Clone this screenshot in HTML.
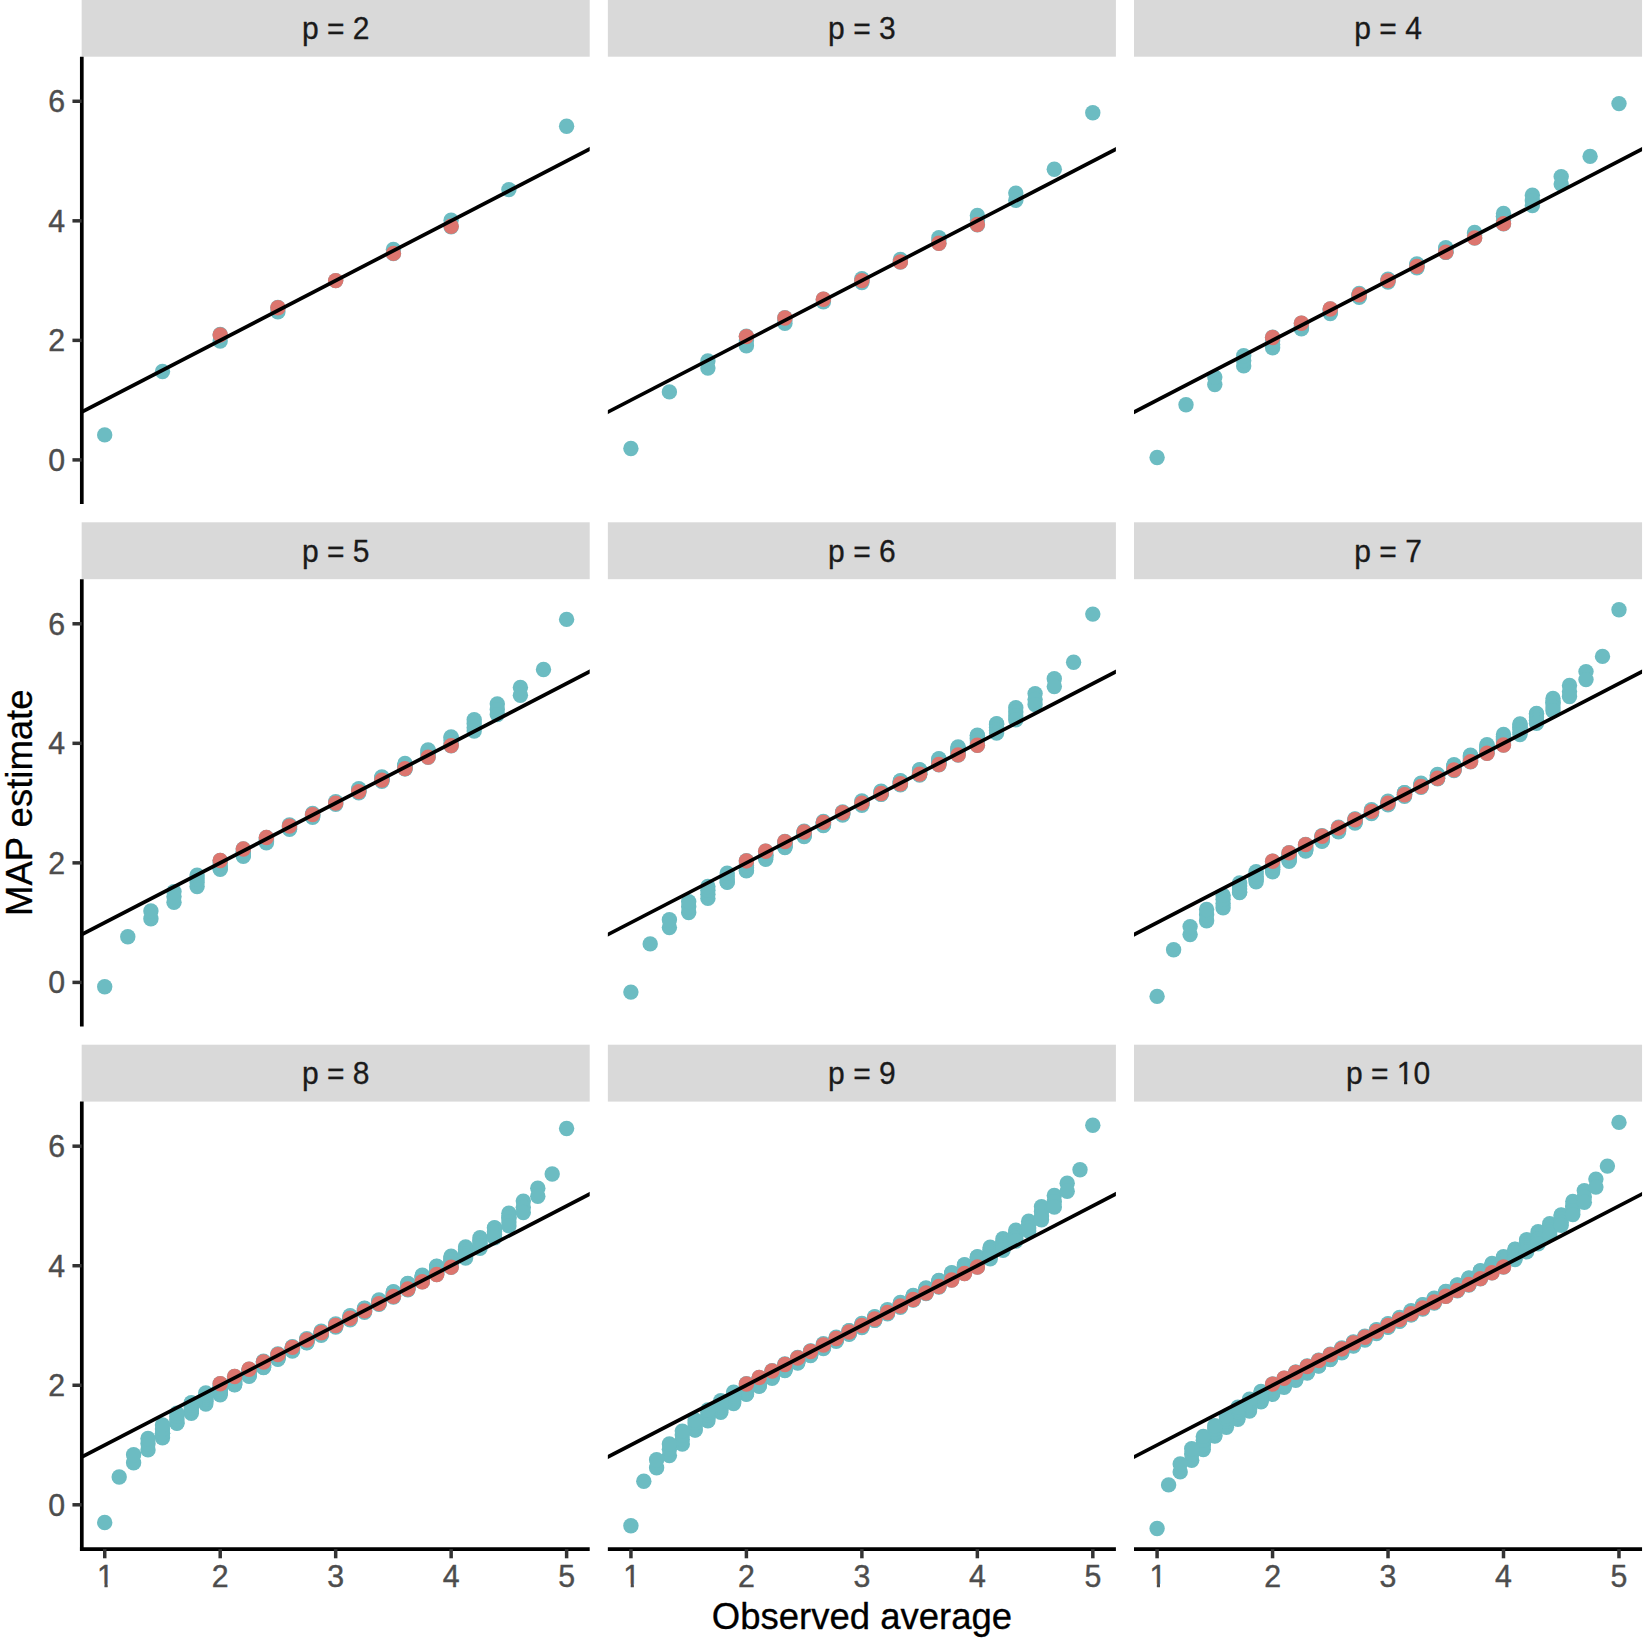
<!DOCTYPE html>
<html lang="en"><head><meta charset="utf-8"><title>MAP estimate vs observed average</title>
<style>html,body{margin:0;padding:0;background:#fff}svg{display:block}text{font-family:"Liberation Sans",Arial,Helvetica,sans-serif}.ax{font-size:30.3px;fill:#4D4D4D}.st{font-size:30px;fill:#1A1A1A;text-anchor:middle}.ti{font-size:36.5px;fill:#000;text-anchor:middle}.t{fill:#6CBCC2}.r{fill:#DC756E}.ax,.st,.ti{stroke-width:0.4px;stroke-linejoin:round}.ax{stroke:#4D4D4D}.st{stroke:#1A1A1A;stroke-width:0.3px}.ti{stroke:#000;stroke-width:0.3px}</style></head><body>
<svg width="1643" height="1641" viewBox="0 0 1643 1641">
<rect width="1643" height="1641" fill="#fff"/>
<defs><clipPath id="c1" clipPathUnits="objectBoundingBox"><path d="M-0.2 -0.2H1.2V0.712H0.625V1.2H0.438V0.712H-0.2Z"/></clipPath><clipPath id="c10" clipPathUnits="objectBoundingBox"><path d="M-0.1 -0.2H1.1V1.2H0.803V0.712H0.7275V1.2H0.691V0.712H0.612V1.2H-0.1Z"/></clipPath><clipPath id="p0"><rect x="81.65" y="56.7" width="508.05" height="447.3"/></clipPath><clipPath id="p1"><rect x="607.85" y="56.7" width="508.05" height="447.3"/></clipPath><clipPath id="p2"><rect x="1134" y="56.7" width="508.05" height="447.3"/></clipPath><clipPath id="p3"><rect x="81.65" y="579.2" width="508.05" height="447.3"/></clipPath><clipPath id="p4"><rect x="607.85" y="579.2" width="508.05" height="447.3"/></clipPath><clipPath id="p5"><rect x="1134" y="579.2" width="508.05" height="447.3"/></clipPath><clipPath id="p6"><rect x="81.65" y="1101.6" width="508.05" height="447.3"/></clipPath><clipPath id="p7"><rect x="607.85" y="1101.6" width="508.05" height="447.3"/></clipPath><clipPath id="p8"><rect x="1134" y="1101.6" width="508.05" height="447.3"/></clipPath></defs>
<g>
<rect x="81.65" y="-0.2" width="508.05" height="56.9" fill="#D9D9D9"/>
<text class="st" transform="translate(335.68 39.3) scale(1 1.02)">p = 2</text>
<g class="t"><circle cx="104.7" cy="434.9" r="7.7"/><circle cx="162.5" cy="371.5" r="7.7"/><circle cx="220.2" cy="341" r="7.7"/><circle cx="277.9" cy="311.8" r="7.7"/><circle cx="335.7" cy="280.6" r="7.7"/><circle cx="220.2" cy="334.5" r="7.7"/><circle cx="277.9" cy="307.5" r="7.7"/><circle cx="393.4" cy="249.4" r="7.7"/><circle cx="393.4" cy="253.6" r="7.7"/><circle cx="451.1" cy="220.2" r="7.7"/><circle cx="451.1" cy="226.7" r="7.7"/><circle cx="508.9" cy="189.6" r="7.7"/><circle cx="566.6" cy="126.3" r="7.7"/></g>
<g class="r"><circle cx="220.21" cy="334.93" r="7.7"/><circle cx="277.94" cy="307.76" r="7.7"/><circle cx="335.68" cy="280.59" r="7.7"/><circle cx="393.42" cy="253.42" r="7.7"/><circle cx="451.15" cy="226.25" r="7.7"/></g>
<line clip-path="url(#p0)" x1="58.55" y1="424.04" x2="612.81" y2="137.14" stroke="#000" stroke-width="3.7"/>
<line x1="81.8" y1="56.7" x2="81.8" y2="504" stroke="#000" stroke-width="3.7"/>
<line x1="72.45" y1="459.9" x2="81.65" y2="459.9" stroke="#333" stroke-width="3.5"/>
<text class="ax" text-anchor="end" transform="translate(65 470.7) scale(1 1.03)">0</text>
<line x1="72.45" y1="340.36" x2="81.65" y2="340.36" stroke="#333" stroke-width="3.5"/>
<text class="ax" text-anchor="end" transform="translate(65 351.16) scale(1 1.03)">2</text>
<line x1="72.45" y1="220.82" x2="81.65" y2="220.82" stroke="#333" stroke-width="3.5"/>
<text class="ax" text-anchor="end" transform="translate(65 231.62) scale(1 1.03)">4</text>
<line x1="72.45" y1="101.28" x2="81.65" y2="101.28" stroke="#333" stroke-width="3.5"/>
<text class="ax" text-anchor="end" transform="translate(65 112.08) scale(1 1.03)">6</text>
</g>
<g>
<rect x="607.85" y="-0.2" width="508.05" height="56.9" fill="#D9D9D9"/>
<text class="st" transform="translate(861.88 39.3) scale(1 1.02)">p = 3</text>
<g class="t"><circle cx="630.9" cy="448.5" r="7.7"/><circle cx="669.4" cy="391.9" r="7.7"/><circle cx="707.9" cy="368.1" r="7.7"/><circle cx="746.4" cy="345.8" r="7.7"/><circle cx="784.9" cy="323.4" r="7.7"/><circle cx="707.9" cy="360.9" r="7.7"/><circle cx="746.4" cy="340.8" r="7.7"/><circle cx="784.9" cy="321" r="7.7"/><circle cx="823.4" cy="300.1" r="7.7"/><circle cx="823.4" cy="301.7" r="7.7"/><circle cx="861.9" cy="280.6" r="7.7"/><circle cx="861.9" cy="282.6" r="7.7"/><circle cx="900.4" cy="261.1" r="7.7"/><circle cx="938.9" cy="237.8" r="7.7"/><circle cx="746.4" cy="336.3" r="7.7"/><circle cx="784.9" cy="317.7" r="7.7"/><circle cx="823.4" cy="299.1" r="7.7"/><circle cx="861.9" cy="278.6" r="7.7"/><circle cx="900.4" cy="259.5" r="7.7"/><circle cx="900.4" cy="262.1" r="7.7"/><circle cx="938.9" cy="240.1" r="7.7"/><circle cx="977.4" cy="215.4" r="7.7"/><circle cx="938.9" cy="243.4" r="7.7"/><circle cx="977.4" cy="220.4" r="7.7"/><circle cx="1015.8" cy="193.1" r="7.7"/><circle cx="977.4" cy="224.9" r="7.7"/><circle cx="1015.8" cy="200.3" r="7.7"/><circle cx="1054.3" cy="169.3" r="7.7"/><circle cx="1092.8" cy="112.7" r="7.7"/></g>
<g class="r"><circle cx="746.41" cy="336.62" r="7.7"/><circle cx="784.9" cy="317.95" r="7.7"/><circle cx="823.39" cy="299.27" r="7.7"/><circle cx="861.88" cy="280.59" r="7.7"/><circle cx="900.37" cy="261.91" r="7.7"/><circle cx="938.86" cy="243.23" r="7.7"/><circle cx="977.35" cy="224.56" r="7.7"/></g>
<line clip-path="url(#p1)" x1="584.75" y1="424.04" x2="1139.01" y2="137.14" stroke="#000" stroke-width="3.7"/>
</g>
<g>
<rect x="1134" y="-0.2" width="508.05" height="56.9" fill="#D9D9D9"/>
<text class="st" transform="translate(1388.03 39.3) scale(1 1.02)">p = 4</text>
<g class="t"><circle cx="1157.1" cy="457.5" r="7.7"/><circle cx="1186" cy="404.8" r="7.7"/><circle cx="1214.8" cy="384.6" r="7.7"/><circle cx="1243.7" cy="365.9" r="7.7"/><circle cx="1272.6" cy="347.7" r="7.7"/><circle cx="1214.8" cy="377.1" r="7.7"/><circle cx="1243.7" cy="360.5" r="7.7"/><circle cx="1272.6" cy="344.4" r="7.7"/><circle cx="1301.4" cy="327.8" r="7.7"/><circle cx="1301.4" cy="328.8" r="7.7"/><circle cx="1330.3" cy="312.4" r="7.7"/><circle cx="1330.3" cy="313.5" r="7.7"/><circle cx="1359.2" cy="297.2" r="7.7"/><circle cx="1388" cy="280.6" r="7.7"/><circle cx="1243.7" cy="355.7" r="7.7"/><circle cx="1272.6" cy="340.7" r="7.7"/><circle cx="1301.4" cy="325.8" r="7.7"/><circle cx="1330.3" cy="310" r="7.7"/><circle cx="1330.3" cy="311.1" r="7.7"/><circle cx="1359.2" cy="295.3" r="7.7"/><circle cx="1359.2" cy="296.6" r="7.7"/><circle cx="1416.9" cy="264" r="7.7"/><circle cx="1388" cy="282.1" r="7.7"/><circle cx="1416.9" cy="265.9" r="7.7"/><circle cx="1445.8" cy="248.8" r="7.7"/><circle cx="1416.9" cy="267.7" r="7.7"/><circle cx="1445.8" cy="251.2" r="7.7"/><circle cx="1474.6" cy="233.4" r="7.7"/><circle cx="1503.5" cy="213.5" r="7.7"/><circle cx="1272.6" cy="337.3" r="7.7"/><circle cx="1301.4" cy="323.1" r="7.7"/><circle cx="1330.3" cy="308.9" r="7.7"/><circle cx="1359.2" cy="293.5" r="7.7"/><circle cx="1359.2" cy="294.7" r="7.7"/><circle cx="1388" cy="279.1" r="7.7"/><circle cx="1416.9" cy="264.6" r="7.7"/><circle cx="1445.8" cy="247.7" r="7.7"/><circle cx="1359.2" cy="294.8" r="7.7"/><circle cx="1416.9" cy="266.4" r="7.7"/><circle cx="1445.8" cy="250" r="7.7"/><circle cx="1474.6" cy="232.4" r="7.7"/><circle cx="1445.8" cy="252.3" r="7.7"/><circle cx="1474.6" cy="235.4" r="7.7"/><circle cx="1503.5" cy="216.8" r="7.7"/><circle cx="1532.4" cy="195.3" r="7.7"/><circle cx="1445.8" cy="252.2" r="7.7"/><circle cx="1503.5" cy="216.7" r="7.7"/><circle cx="1474.6" cy="238.1" r="7.7"/><circle cx="1503.5" cy="220.5" r="7.7"/><circle cx="1532.4" cy="200.7" r="7.7"/><circle cx="1561.2" cy="176.6" r="7.7"/><circle cx="1503.5" cy="223.9" r="7.7"/><circle cx="1532.4" cy="205.5" r="7.7"/><circle cx="1561.2" cy="184.1" r="7.7"/><circle cx="1590.1" cy="156.4" r="7.7"/><circle cx="1619" cy="103.6" r="7.7"/></g>
<g class="r"><circle cx="1272.56" cy="337.51" r="7.7"/><circle cx="1301.43" cy="323.28" r="7.7"/><circle cx="1330.29" cy="309.05" r="7.7"/><circle cx="1359.16" cy="294.82" r="7.7"/><circle cx="1388.03" cy="280.59" r="7.7"/><circle cx="1416.9" cy="266.36" r="7.7"/><circle cx="1445.76" cy="252.13" r="7.7"/><circle cx="1474.63" cy="237.9" r="7.7"/><circle cx="1503.5" cy="223.67" r="7.7"/></g>
<line clip-path="url(#p2)" x1="1110.9" y1="424.04" x2="1665.16" y2="137.14" stroke="#000" stroke-width="3.7"/>
</g>
<g>
<rect x="81.65" y="522.3" width="508.05" height="56.9" fill="#D9D9D9"/>
<text class="st" transform="translate(335.68 561.8) scale(1 1.02)">p = 5</text>
<g class="t"><circle cx="104.7" cy="986.8" r="7.7"/><circle cx="127.8" cy="936.7" r="7.7"/><circle cx="150.9" cy="918.7" r="7.7"/><circle cx="174" cy="902.3" r="7.7"/><circle cx="197.1" cy="886.5" r="7.7"/><circle cx="150.9" cy="911" r="7.7"/><circle cx="174" cy="896.5" r="7.7"/><circle cx="197.1" cy="882.6" r="7.7"/><circle cx="220.2" cy="868.6" r="7.7"/><circle cx="220.2" cy="869.3" r="7.7"/><circle cx="243.3" cy="855.6" r="7.7"/><circle cx="243.3" cy="856.3" r="7.7"/><circle cx="266.4" cy="842.8" r="7.7"/><circle cx="289.5" cy="829.3" r="7.7"/><circle cx="174" cy="891.6" r="7.7"/><circle cx="197.1" cy="878.7" r="7.7"/><circle cx="220.2" cy="866" r="7.7"/><circle cx="243.3" cy="852.9" r="7.7"/><circle cx="243.3" cy="853.7" r="7.7"/><circle cx="266.4" cy="840.6" r="7.7"/><circle cx="266.4" cy="841.4" r="7.7"/><circle cx="289.5" cy="828.4" r="7.7"/><circle cx="312.6" cy="815.3" r="7.7"/><circle cx="312.6" cy="816.4" r="7.7"/><circle cx="335.7" cy="803.1" r="7.7"/><circle cx="312.6" cy="817.4" r="7.7"/><circle cx="335.7" cy="804.4" r="7.7"/><circle cx="358.8" cy="790.9" r="7.7"/><circle cx="381.9" cy="776.9" r="7.7"/><circle cx="197.1" cy="875.1" r="7.7"/><circle cx="220.2" cy="863.1" r="7.7"/><circle cx="243.3" cy="851.2" r="7.7"/><circle cx="266.4" cy="838.5" r="7.7"/><circle cx="266.4" cy="839.4" r="7.7"/><circle cx="289.5" cy="826.7" r="7.7"/><circle cx="289.5" cy="827.6" r="7.7"/><circle cx="312.6" cy="814.9" r="7.7"/><circle cx="335.7" cy="801.8" r="7.7"/><circle cx="312.6" cy="816" r="7.7"/><circle cx="358.8" cy="789.8" r="7.7"/><circle cx="358.8" cy="791.3" r="7.7"/><circle cx="381.9" cy="777.8" r="7.7"/><circle cx="405" cy="763.4" r="7.7"/><circle cx="381.9" cy="777.7" r="7.7"/><circle cx="358.8" cy="792.7" r="7.7"/><circle cx="381.9" cy="779.5" r="7.7"/><circle cx="405" cy="765.6" r="7.7"/><circle cx="428.1" cy="750.6" r="7.7"/><circle cx="381.9" cy="781.2" r="7.7"/><circle cx="405" cy="767.7" r="7.7"/><circle cx="428.1" cy="753.3" r="7.7"/><circle cx="451.1" cy="737.6" r="7.7"/><circle cx="474.2" cy="719.7" r="7.7"/><circle cx="220.2" cy="860.4" r="7.7"/><circle cx="243.3" cy="848.9" r="7.7"/><circle cx="266.4" cy="837.4" r="7.7"/><circle cx="289.5" cy="825" r="7.7"/><circle cx="289.5" cy="826" r="7.7"/><circle cx="312.6" cy="813.5" r="7.7"/><circle cx="312.6" cy="814.5" r="7.7"/><circle cx="358.8" cy="788.8" r="7.7"/><circle cx="381.9" cy="778.6" r="7.7"/><circle cx="405" cy="764.8" r="7.7"/><circle cx="428.1" cy="749.9" r="7.7"/><circle cx="405" cy="764.7" r="7.7"/><circle cx="381.9" cy="780.2" r="7.7"/><circle cx="405" cy="766.8" r="7.7"/><circle cx="428.1" cy="752.5" r="7.7"/><circle cx="451.1" cy="736.9" r="7.7"/><circle cx="405" cy="768.8" r="7.7"/><circle cx="428.1" cy="755" r="7.7"/><circle cx="451.1" cy="740.2" r="7.7"/><circle cx="474.2" cy="723.6" r="7.7"/><circle cx="497.3" cy="703.9" r="7.7"/><circle cx="405" cy="766.7" r="7.7"/><circle cx="405" cy="768.7" r="7.7"/><circle cx="428.1" cy="757.3" r="7.7"/><circle cx="451.1" cy="743.1" r="7.7"/><circle cx="474.2" cy="727.5" r="7.7"/><circle cx="497.3" cy="709.6" r="7.7"/><circle cx="520.4" cy="687.5" r="7.7"/><circle cx="451.1" cy="745.8" r="7.7"/><circle cx="474.2" cy="731.1" r="7.7"/><circle cx="497.3" cy="714.6" r="7.7"/><circle cx="520.4" cy="695.2" r="7.7"/><circle cx="543.5" cy="669.5" r="7.7"/><circle cx="566.6" cy="619.4" r="7.7"/></g>
<g class="r"><circle cx="220.21" cy="860.56" r="7.7"/><circle cx="243.3" cy="849.07" r="7.7"/><circle cx="266.4" cy="837.57" r="7.7"/><circle cx="289.49" cy="826.08" r="7.7"/><circle cx="312.59" cy="814.58" r="7.7"/><circle cx="335.68" cy="803.09" r="7.7"/><circle cx="358.77" cy="791.6" r="7.7"/><circle cx="381.87" cy="780.1" r="7.7"/><circle cx="404.96" cy="768.61" r="7.7"/><circle cx="428.06" cy="757.11" r="7.7"/><circle cx="451.15" cy="745.62" r="7.7"/></g>
<line clip-path="url(#p3)" x1="58.55" y1="946.54" x2="612.81" y2="659.64" stroke="#000" stroke-width="3.7"/>
<line x1="81.8" y1="579.2" x2="81.8" y2="1026.5" stroke="#000" stroke-width="3.7"/>
<line x1="72.45" y1="982.4" x2="81.65" y2="982.4" stroke="#333" stroke-width="3.5"/>
<text class="ax" text-anchor="end" transform="translate(65 993.2) scale(1 1.03)">0</text>
<line x1="72.45" y1="862.86" x2="81.65" y2="862.86" stroke="#333" stroke-width="3.5"/>
<text class="ax" text-anchor="end" transform="translate(65 873.66) scale(1 1.03)">2</text>
<line x1="72.45" y1="743.32" x2="81.65" y2="743.32" stroke="#333" stroke-width="3.5"/>
<text class="ax" text-anchor="end" transform="translate(65 754.12) scale(1 1.03)">4</text>
<line x1="72.45" y1="623.78" x2="81.65" y2="623.78" stroke="#333" stroke-width="3.5"/>
<text class="ax" text-anchor="end" transform="translate(65 634.58) scale(1 1.03)">6</text>
</g>
<g>
<rect x="607.85" y="522.3" width="508.05" height="56.9" fill="#D9D9D9"/>
<text class="st" transform="translate(861.88 561.8) scale(1 1.02)">p = 6</text>
<g class="t"><circle cx="630.9" cy="992.1" r="7.7"/><circle cx="650.2" cy="943.9" r="7.7"/><circle cx="669.4" cy="927.5" r="7.7"/><circle cx="688.7" cy="912.6" r="7.7"/><circle cx="707.9" cy="898.4" r="7.7"/><circle cx="669.4" cy="919.7" r="7.7"/><circle cx="688.7" cy="906.7" r="7.7"/><circle cx="707.9" cy="894.3" r="7.7"/><circle cx="727.2" cy="881.8" r="7.7"/><circle cx="727.2" cy="882.4" r="7.7"/><circle cx="746.4" cy="870.4" r="7.7"/><circle cx="746.4" cy="870.9" r="7.7"/><circle cx="765.7" cy="859.2" r="7.7"/><circle cx="784.9" cy="847.6" r="7.7"/><circle cx="688.7" cy="901.6" r="7.7"/><circle cx="707.9" cy="890.2" r="7.7"/><circle cx="727.2" cy="879" r="7.7"/><circle cx="746.4" cy="867.5" r="7.7"/><circle cx="746.4" cy="868.1" r="7.7"/><circle cx="765.7" cy="856.8" r="7.7"/><circle cx="765.7" cy="857.4" r="7.7"/><circle cx="784.9" cy="846.3" r="7.7"/><circle cx="804.1" cy="835.1" r="7.7"/><circle cx="784.9" cy="847" r="7.7"/><circle cx="804.1" cy="835.9" r="7.7"/><circle cx="823.4" cy="824.7" r="7.7"/><circle cx="804.1" cy="836.6" r="7.7"/><circle cx="823.4" cy="825.6" r="7.7"/><circle cx="842.6" cy="814.4" r="7.7"/><circle cx="861.9" cy="803.1" r="7.7"/><circle cx="707.9" cy="886.5" r="7.7"/><circle cx="727.2" cy="875.9" r="7.7"/><circle cx="746.4" cy="865.5" r="7.7"/><circle cx="765.7" cy="854.6" r="7.7"/><circle cx="765.7" cy="855.2" r="7.7"/><circle cx="784.9" cy="844.4" r="7.7"/><circle cx="784.9" cy="845" r="7.7"/><circle cx="804.1" cy="834.2" r="7.7"/><circle cx="823.4" cy="823.3" r="7.7"/><circle cx="765.7" cy="855.3" r="7.7"/><circle cx="804.1" cy="834.3" r="7.7"/><circle cx="823.4" cy="824.2" r="7.7"/><circle cx="842.6" cy="813.2" r="7.7"/><circle cx="823.4" cy="825" r="7.7"/><circle cx="842.6" cy="814.1" r="7.7"/><circle cx="881.1" cy="791.8" r="7.7"/><circle cx="842.6" cy="815" r="7.7"/><circle cx="861.9" cy="804.1" r="7.7"/><circle cx="881.1" cy="793" r="7.7"/><circle cx="900.4" cy="781.4" r="7.7"/><circle cx="861.9" cy="805.2" r="7.7"/><circle cx="881.1" cy="794.2" r="7.7"/><circle cx="900.4" cy="782.9" r="7.7"/><circle cx="919.6" cy="771.1" r="7.7"/><circle cx="938.9" cy="758.6" r="7.7"/><circle cx="727.2" cy="873.1" r="7.7"/><circle cx="746.4" cy="863.1" r="7.7"/><circle cx="765.7" cy="853.1" r="7.7"/><circle cx="784.9" cy="842.6" r="7.7"/><circle cx="784.9" cy="843.2" r="7.7"/><circle cx="804.1" cy="832.7" r="7.7"/><circle cx="804.1" cy="833.4" r="7.7"/><circle cx="823.4" cy="822.8" r="7.7"/><circle cx="842.6" cy="812" r="7.7"/><circle cx="784.9" cy="843.3" r="7.7"/><circle cx="861.9" cy="802" r="7.7"/><circle cx="900.4" cy="780.6" r="7.7"/><circle cx="900.4" cy="782" r="7.7"/><circle cx="919.6" cy="770.3" r="7.7"/><circle cx="881.1" cy="794.4" r="7.7"/><circle cx="900.4" cy="783.4" r="7.7"/><circle cx="919.6" cy="772" r="7.7"/><circle cx="938.9" cy="759.9" r="7.7"/><circle cx="958.1" cy="747" r="7.7"/><circle cx="900.4" cy="784.7" r="7.7"/><circle cx="919.6" cy="773.5" r="7.7"/><circle cx="938.9" cy="761.8" r="7.7"/><circle cx="958.1" cy="749.3" r="7.7"/><circle cx="977.4" cy="735.8" r="7.7"/><circle cx="919.6" cy="775" r="7.7"/><circle cx="938.9" cy="763.6" r="7.7"/><circle cx="958.1" cy="751.6" r="7.7"/><circle cx="977.4" cy="738.7" r="7.7"/><circle cx="996.6" cy="724.3" r="7.7"/><circle cx="1015.8" cy="707.7" r="7.7"/><circle cx="746.4" cy="860.8" r="7.7"/><circle cx="765.7" cy="851.1" r="7.7"/><circle cx="784.9" cy="841.5" r="7.7"/><circle cx="804.1" cy="831.1" r="7.7"/><circle cx="804.1" cy="831.9" r="7.7"/><circle cx="823.4" cy="821.5" r="7.7"/><circle cx="823.4" cy="822.3" r="7.7"/><circle cx="861.9" cy="801" r="7.7"/><circle cx="842.6" cy="812.7" r="7.7"/><circle cx="881.1" cy="791.1" r="7.7"/><circle cx="881.1" cy="792.3" r="7.7"/><circle cx="900.4" cy="781.2" r="7.7"/><circle cx="919.6" cy="769.6" r="7.7"/><circle cx="881.1" cy="793.5" r="7.7"/><circle cx="900.4" cy="782.6" r="7.7"/><circle cx="938.9" cy="759.2" r="7.7"/><circle cx="900.4" cy="783.9" r="7.7"/><circle cx="919.6" cy="772.8" r="7.7"/><circle cx="938.9" cy="761.2" r="7.7"/><circle cx="958.1" cy="748.8" r="7.7"/><circle cx="977.4" cy="735.2" r="7.7"/><circle cx="958.1" cy="748.7" r="7.7"/><circle cx="919.6" cy="774.3" r="7.7"/><circle cx="938.9" cy="762.9" r="7.7"/><circle cx="958.1" cy="751" r="7.7"/><circle cx="977.4" cy="738" r="7.7"/><circle cx="996.6" cy="723.7" r="7.7"/><circle cx="938.9" cy="764.7" r="7.7"/><circle cx="958.1" cy="753.1" r="7.7"/><circle cx="977.4" cy="740.7" r="7.7"/><circle cx="996.6" cy="727.2" r="7.7"/><circle cx="1015.8" cy="711.9" r="7.7"/><circle cx="1035.1" cy="693.6" r="7.7"/><circle cx="919.6" cy="772.7" r="7.7"/><circle cx="919.6" cy="774.2" r="7.7"/><circle cx="958.1" cy="755" r="7.7"/><circle cx="977.4" cy="743.1" r="7.7"/><circle cx="996.6" cy="730.2" r="7.7"/><circle cx="1015.8" cy="716" r="7.7"/><circle cx="1035.1" cy="699.5" r="7.7"/><circle cx="1054.3" cy="678.7" r="7.7"/><circle cx="977.4" cy="745.4" r="7.7"/><circle cx="996.6" cy="733.1" r="7.7"/><circle cx="1015.8" cy="719.7" r="7.7"/><circle cx="1035.1" cy="704.6" r="7.7"/><circle cx="1054.3" cy="686.5" r="7.7"/><circle cx="1073.6" cy="662.3" r="7.7"/><circle cx="1092.8" cy="614.1" r="7.7"/></g>
<g class="r"><circle cx="746.41" cy="860.93" r="7.7"/><circle cx="765.65" cy="851.29" r="7.7"/><circle cx="784.9" cy="841.65" r="7.7"/><circle cx="804.14" cy="832.01" r="7.7"/><circle cx="823.39" cy="822.37" r="7.7"/><circle cx="842.64" cy="812.73" r="7.7"/><circle cx="861.88" cy="803.09" r="7.7"/><circle cx="881.12" cy="793.45" r="7.7"/><circle cx="900.37" cy="783.81" r="7.7"/><circle cx="919.62" cy="774.17" r="7.7"/><circle cx="938.86" cy="764.53" r="7.7"/><circle cx="958.11" cy="754.89" r="7.7"/><circle cx="977.35" cy="745.25" r="7.7"/></g>
<line clip-path="url(#p4)" x1="584.75" y1="946.54" x2="1139.01" y2="659.64" stroke="#000" stroke-width="3.7"/>
</g>
<g>
<rect x="1134" y="522.3" width="508.05" height="56.9" fill="#D9D9D9"/>
<text class="st" transform="translate(1388.03 561.8) scale(1 1.02)">p = 7</text>
<g class="t"><circle cx="1157.1" cy="996.4" r="7.7"/><circle cx="1173.6" cy="949.7" r="7.7"/><circle cx="1190.1" cy="934.5" r="7.7"/><circle cx="1206.6" cy="920.8" r="7.7"/><circle cx="1223.1" cy="907.8" r="7.7"/><circle cx="1190.1" cy="926.6" r="7.7"/><circle cx="1206.6" cy="914.7" r="7.7"/><circle cx="1223.1" cy="903.4" r="7.7"/><circle cx="1239.6" cy="892.1" r="7.7"/><circle cx="1239.6" cy="892.6" r="7.7"/><circle cx="1256.1" cy="881.8" r="7.7"/><circle cx="1272.6" cy="871.7" r="7.7"/><circle cx="1289.1" cy="861.4" r="7.7"/><circle cx="1206.6" cy="909.5" r="7.7"/><circle cx="1223.1" cy="899.2" r="7.7"/><circle cx="1239.6" cy="889" r="7.7"/><circle cx="1256.1" cy="878.8" r="7.7"/><circle cx="1256.1" cy="879.3" r="7.7"/><circle cx="1272.6" cy="869.2" r="7.7"/><circle cx="1272.6" cy="869.7" r="7.7"/><circle cx="1289.1" cy="859.8" r="7.7"/><circle cx="1305.6" cy="849.9" r="7.7"/><circle cx="1289.1" cy="860.3" r="7.7"/><circle cx="1305.6" cy="850.5" r="7.7"/><circle cx="1322" cy="840.8" r="7.7"/><circle cx="1305.6" cy="851.1" r="7.7"/><circle cx="1322" cy="841.4" r="7.7"/><circle cx="1338.5" cy="831.7" r="7.7"/><circle cx="1355" cy="822" r="7.7"/><circle cx="1223.1" cy="895.4" r="7.7"/><circle cx="1239.6" cy="885.9" r="7.7"/><circle cx="1256.1" cy="876.5" r="7.7"/><circle cx="1272.6" cy="866.8" r="7.7"/><circle cx="1272.6" cy="867.3" r="7.7"/><circle cx="1289.1" cy="857.8" r="7.7"/><circle cx="1305.6" cy="848.7" r="7.7"/><circle cx="1322" cy="839.2" r="7.7"/><circle cx="1289.1" cy="858.3" r="7.7"/><circle cx="1305.6" cy="848.8" r="7.7"/><circle cx="1305.6" cy="849.3" r="7.7"/><circle cx="1322" cy="839.9" r="7.7"/><circle cx="1338.5" cy="830.4" r="7.7"/><circle cx="1322" cy="840.4" r="7.7"/><circle cx="1338.5" cy="831" r="7.7"/><circle cx="1355" cy="821.5" r="7.7"/><circle cx="1371.5" cy="811.9" r="7.7"/><circle cx="1355" cy="822.3" r="7.7"/><circle cx="1371.5" cy="812.8" r="7.7"/><circle cx="1388" cy="803.1" r="7.7"/><circle cx="1355" cy="823" r="7.7"/><circle cx="1371.5" cy="813.6" r="7.7"/><circle cx="1388" cy="804" r="7.7"/><circle cx="1404.5" cy="794.2" r="7.7"/><circle cx="1421" cy="784.2" r="7.7"/><circle cx="1239.6" cy="882.9" r="7.7"/><circle cx="1256.1" cy="874" r="7.7"/><circle cx="1272.6" cy="865.1" r="7.7"/><circle cx="1289.1" cy="855.8" r="7.7"/><circle cx="1289.1" cy="856.3" r="7.7"/><circle cx="1305.6" cy="847.1" r="7.7"/><circle cx="1305.6" cy="847.6" r="7.7"/><circle cx="1322" cy="838.4" r="7.7"/><circle cx="1338.5" cy="829" r="7.7"/><circle cx="1338.5" cy="829.7" r="7.7"/><circle cx="1355" cy="820.4" r="7.7"/><circle cx="1355" cy="821.1" r="7.7"/><circle cx="1371.5" cy="811.7" r="7.7"/><circle cx="1388" cy="802.2" r="7.7"/><circle cx="1338.5" cy="829.8" r="7.7"/><circle cx="1371.5" cy="812.5" r="7.7"/><circle cx="1404.5" cy="793.4" r="7.7"/><circle cx="1404.5" cy="794.5" r="7.7"/><circle cx="1421" cy="784.6" r="7.7"/><circle cx="1437.5" cy="774.5" r="7.7"/><circle cx="1388" cy="804.9" r="7.7"/><circle cx="1404.5" cy="795.5" r="7.7"/><circle cx="1421" cy="785.8" r="7.7"/><circle cx="1437.5" cy="775.8" r="7.7"/><circle cx="1454" cy="765.4" r="7.7"/><circle cx="1404.5" cy="796.4" r="7.7"/><circle cx="1421" cy="786.9" r="7.7"/><circle cx="1437.5" cy="777.1" r="7.7"/><circle cx="1454" cy="767" r="7.7"/><circle cx="1470.5" cy="756.2" r="7.7"/><circle cx="1487" cy="744.8" r="7.7"/><circle cx="1256.1" cy="871.6" r="7.7"/><circle cx="1272.6" cy="863" r="7.7"/><circle cx="1289.1" cy="854.5" r="7.7"/><circle cx="1305.6" cy="845.4" r="7.7"/><circle cx="1305.6" cy="846" r="7.7"/><circle cx="1322" cy="837" r="7.7"/><circle cx="1322" cy="837.5" r="7.7"/><circle cx="1338.5" cy="828.5" r="7.7"/><circle cx="1355" cy="819.3" r="7.7"/><circle cx="1355" cy="820" r="7.7"/><circle cx="1371.5" cy="810.7" r="7.7"/><circle cx="1404.5" cy="792.6" r="7.7"/><circle cx="1421" cy="785.1" r="7.7"/><circle cx="1437.5" cy="775.2" r="7.7"/><circle cx="1454" cy="764.8" r="7.7"/><circle cx="1437.5" cy="776.4" r="7.7"/><circle cx="1454" cy="766.3" r="7.7"/><circle cx="1470.5" cy="755.6" r="7.7"/><circle cx="1421" cy="787.3" r="7.7"/><circle cx="1437.5" cy="777.7" r="7.7"/><circle cx="1454" cy="767.8" r="7.7"/><circle cx="1470.5" cy="757.4" r="7.7"/><circle cx="1487" cy="746.4" r="7.7"/><circle cx="1503.5" cy="734.5" r="7.7"/><circle cx="1437.5" cy="778.9" r="7.7"/><circle cx="1454" cy="769.2" r="7.7"/><circle cx="1470.5" cy="759.1" r="7.7"/><circle cx="1487" cy="748.4" r="7.7"/><circle cx="1503.5" cy="737" r="7.7"/><circle cx="1520" cy="724.4" r="7.7"/><circle cx="1454" cy="770.6" r="7.7"/><circle cx="1470.5" cy="760.7" r="7.7"/><circle cx="1487" cy="750.4" r="7.7"/><circle cx="1503.5" cy="739.4" r="7.7"/><circle cx="1520" cy="727.4" r="7.7"/><circle cx="1536.5" cy="714" r="7.7"/><circle cx="1553" cy="698.4" r="7.7"/><circle cx="1272.6" cy="861.1" r="7.7"/><circle cx="1289.1" cy="852.8" r="7.7"/><circle cx="1305.6" cy="844.4" r="7.7"/><circle cx="1322" cy="835.6" r="7.7"/><circle cx="1322" cy="836.2" r="7.7"/><circle cx="1338.5" cy="827.2" r="7.7"/><circle cx="1338.5" cy="827.9" r="7.7"/><circle cx="1355" cy="818.9" r="7.7"/><circle cx="1371.5" cy="809.7" r="7.7"/><circle cx="1388" cy="801.3" r="7.7"/><circle cx="1404.5" cy="792.8" r="7.7"/><circle cx="1421" cy="783.2" r="7.7"/><circle cx="1404.5" cy="794.8" r="7.7"/><circle cx="1421" cy="785.5" r="7.7"/><circle cx="1470.5" cy="755.1" r="7.7"/><circle cx="1421" cy="786.6" r="7.7"/><circle cx="1470.5" cy="756.9" r="7.7"/><circle cx="1487" cy="745.9" r="7.7"/><circle cx="1437.5" cy="778.3" r="7.7"/><circle cx="1454" cy="768.6" r="7.7"/><circle cx="1470.5" cy="758.6" r="7.7"/><circle cx="1487" cy="747.9" r="7.7"/><circle cx="1503.5" cy="736.5" r="7.7"/><circle cx="1520" cy="724" r="7.7"/><circle cx="1437.5" cy="775.7" r="7.7"/><circle cx="1454" cy="770" r="7.7"/><circle cx="1470.5" cy="760.2" r="7.7"/><circle cx="1487" cy="749.8" r="7.7"/><circle cx="1503.5" cy="738.8" r="7.7"/><circle cx="1520" cy="726.9" r="7.7"/><circle cx="1536.5" cy="713.5" r="7.7"/><circle cx="1470.5" cy="761.7" r="7.7"/><circle cx="1487" cy="751.7" r="7.7"/><circle cx="1503.5" cy="741.1" r="7.7"/><circle cx="1520" cy="729.7" r="7.7"/><circle cx="1536.5" cy="717.1" r="7.7"/><circle cx="1553" cy="702.8" r="7.7"/><circle cx="1569.5" cy="685.4" r="7.7"/><circle cx="1437.5" cy="778.2" r="7.7"/><circle cx="1553" cy="702.7" r="7.7"/><circle cx="1487" cy="753.4" r="7.7"/><circle cx="1503.5" cy="743.1" r="7.7"/><circle cx="1520" cy="732.2" r="7.7"/><circle cx="1536.5" cy="720.3" r="7.7"/><circle cx="1553" cy="707" r="7.7"/><circle cx="1569.5" cy="691.5" r="7.7"/><circle cx="1586" cy="671.6" r="7.7"/><circle cx="1503.5" cy="745.1" r="7.7"/><circle cx="1520" cy="734.6" r="7.7"/><circle cx="1536.5" cy="723.3" r="7.7"/><circle cx="1553" cy="710.8" r="7.7"/><circle cx="1569.5" cy="696.6" r="7.7"/><circle cx="1586" cy="679.6" r="7.7"/><circle cx="1602.5" cy="656.4" r="7.7"/><circle cx="1619" cy="609.7" r="7.7"/></g>
<g class="r"><circle cx="1272.56" cy="861.2" r="7.7"/><circle cx="1289.06" cy="852.9" r="7.7"/><circle cx="1305.55" cy="844.6" r="7.7"/><circle cx="1322.05" cy="836.3" r="7.7"/><circle cx="1338.54" cy="827.99" r="7.7"/><circle cx="1355.04" cy="819.69" r="7.7"/><circle cx="1371.53" cy="811.39" r="7.7"/><circle cx="1388.03" cy="803.09" r="7.7"/><circle cx="1404.53" cy="794.79" r="7.7"/><circle cx="1421.02" cy="786.49" r="7.7"/><circle cx="1437.52" cy="778.19" r="7.7"/><circle cx="1454.01" cy="769.88" r="7.7"/><circle cx="1470.51" cy="761.58" r="7.7"/><circle cx="1487" cy="753.28" r="7.7"/><circle cx="1503.5" cy="744.98" r="7.7"/></g>
<line clip-path="url(#p5)" x1="1110.9" y1="946.54" x2="1665.16" y2="659.64" stroke="#000" stroke-width="3.7"/>
</g>
<g>
<rect x="81.65" y="1044.7" width="508.05" height="56.9" fill="#D9D9D9"/>
<text class="st" transform="translate(335.68 1084.2) scale(1 1.02)">p = 8</text>
<g class="t"><circle cx="104.7" cy="1522.5" r="7.7"/><circle cx="119.2" cy="1477" r="7.7"/><circle cx="133.6" cy="1462.7" r="7.7"/><circle cx="148" cy="1449.9" r="7.7"/><circle cx="162.5" cy="1437.8" r="7.7"/><circle cx="133.6" cy="1454.8" r="7.7"/><circle cx="148" cy="1443.7" r="7.7"/><circle cx="162.5" cy="1433.2" r="7.7"/><circle cx="176.9" cy="1422.8" r="7.7"/><circle cx="162.5" cy="1433.3" r="7.7"/><circle cx="176.9" cy="1423.3" r="7.7"/><circle cx="191.3" cy="1413.3" r="7.7"/><circle cx="205.8" cy="1404.1" r="7.7"/><circle cx="220.2" cy="1394.7" r="7.7"/><circle cx="148" cy="1438.5" r="7.7"/><circle cx="162.5" cy="1428.9" r="7.7"/><circle cx="176.9" cy="1419.6" r="7.7"/><circle cx="191.3" cy="1410.2" r="7.7"/><circle cx="191.3" cy="1410.6" r="7.7"/><circle cx="205.8" cy="1401.5" r="7.7"/><circle cx="205.8" cy="1401.8" r="7.7"/><circle cx="220.2" cy="1392.9" r="7.7"/><circle cx="234.6" cy="1384" r="7.7"/><circle cx="220.2" cy="1393.3" r="7.7"/><circle cx="234.6" cy="1384.5" r="7.7"/><circle cx="249.1" cy="1375.7" r="7.7"/><circle cx="234.6" cy="1384.9" r="7.7"/><circle cx="249.1" cy="1376.2" r="7.7"/><circle cx="263.5" cy="1367.6" r="7.7"/><circle cx="277.9" cy="1358.9" r="7.7"/><circle cx="162.5" cy="1425" r="7.7"/><circle cx="176.9" cy="1416.3" r="7.7"/><circle cx="191.3" cy="1407.8" r="7.7"/><circle cx="205.8" cy="1399" r="7.7"/><circle cx="205.8" cy="1399.4" r="7.7"/><circle cx="220.2" cy="1390.7" r="7.7"/><circle cx="220.2" cy="1391.1" r="7.7"/><circle cx="234.6" cy="1382.6" r="7.7"/><circle cx="249.1" cy="1374.1" r="7.7"/><circle cx="234.6" cy="1383.1" r="7.7"/><circle cx="249.1" cy="1374.6" r="7.7"/><circle cx="263.5" cy="1366.1" r="7.7"/><circle cx="249.1" cy="1375" r="7.7"/><circle cx="263.5" cy="1366.6" r="7.7"/><circle cx="277.9" cy="1358.2" r="7.7"/><circle cx="292.4" cy="1349.7" r="7.7"/><circle cx="220.2" cy="1391.3" r="7.7"/><circle cx="263.5" cy="1367.2" r="7.7"/><circle cx="292.4" cy="1350.4" r="7.7"/><circle cx="306.8" cy="1341.9" r="7.7"/><circle cx="277.9" cy="1359.3" r="7.7"/><circle cx="292.4" cy="1351" r="7.7"/><circle cx="306.8" cy="1342.6" r="7.7"/><circle cx="321.2" cy="1334.1" r="7.7"/><circle cx="335.7" cy="1325.5" r="7.7"/><circle cx="176.9" cy="1413.3" r="7.7"/><circle cx="191.3" cy="1405.2" r="7.7"/><circle cx="205.8" cy="1397.1" r="7.7"/><circle cx="220.2" cy="1388.7" r="7.7"/><circle cx="220.2" cy="1389.1" r="7.7"/><circle cx="234.6" cy="1380.8" r="7.7"/><circle cx="249.1" cy="1373" r="7.7"/><circle cx="263.5" cy="1364.7" r="7.7"/><circle cx="234.6" cy="1381.3" r="7.7"/><circle cx="249.1" cy="1373.5" r="7.7"/><circle cx="263.5" cy="1365.2" r="7.7"/><circle cx="277.9" cy="1357" r="7.7"/><circle cx="263.5" cy="1365.7" r="7.7"/><circle cx="277.9" cy="1357.5" r="7.7"/><circle cx="292.4" cy="1349.2" r="7.7"/><circle cx="306.8" cy="1340.9" r="7.7"/><circle cx="292.4" cy="1349.9" r="7.7"/><circle cx="306.8" cy="1341.6" r="7.7"/><circle cx="321.2" cy="1333.2" r="7.7"/><circle cx="350.1" cy="1316.9" r="7.7"/><circle cx="306.8" cy="1342.9" r="7.7"/><circle cx="321.2" cy="1334.6" r="7.7"/><circle cx="335.7" cy="1326.3" r="7.7"/><circle cx="350.1" cy="1317.8" r="7.7"/><circle cx="364.5" cy="1309.1" r="7.7"/><circle cx="321.2" cy="1335.4" r="7.7"/><circle cx="335.7" cy="1327.1" r="7.7"/><circle cx="350.1" cy="1318.7" r="7.7"/><circle cx="364.5" cy="1310.1" r="7.7"/><circle cx="379" cy="1301.2" r="7.7"/><circle cx="393.4" cy="1292.1" r="7.7"/><circle cx="191.3" cy="1402.7" r="7.7"/><circle cx="205.8" cy="1395" r="7.7"/><circle cx="220.2" cy="1387.2" r="7.7"/><circle cx="234.6" cy="1379.1" r="7.7"/><circle cx="220.2" cy="1387.3" r="7.7"/><circle cx="234.6" cy="1379.6" r="7.7"/><circle cx="249.1" cy="1371.5" r="7.7"/><circle cx="249.1" cy="1371.9" r="7.7"/><circle cx="263.5" cy="1363.9" r="7.7"/><circle cx="277.9" cy="1355.7" r="7.7"/><circle cx="277.9" cy="1356.3" r="7.7"/><circle cx="292.4" cy="1348.2" r="7.7"/><circle cx="306.8" cy="1340.6" r="7.7"/><circle cx="321.2" cy="1332.3" r="7.7"/><circle cx="335.7" cy="1324.7" r="7.7"/><circle cx="364.5" cy="1308.4" r="7.7"/><circle cx="364.5" cy="1309.4" r="7.7"/><circle cx="379" cy="1300.6" r="7.7"/><circle cx="350.1" cy="1318.8" r="7.7"/><circle cx="364.5" cy="1310.4" r="7.7"/><circle cx="379" cy="1301.7" r="7.7"/><circle cx="393.4" cy="1292.8" r="7.7"/><circle cx="407.8" cy="1283.4" r="7.7"/><circle cx="350.1" cy="1319.7" r="7.7"/><circle cx="364.5" cy="1311.3" r="7.7"/><circle cx="379" cy="1302.8" r="7.7"/><circle cx="393.4" cy="1294" r="7.7"/><circle cx="407.8" cy="1284.9" r="7.7"/><circle cx="422.3" cy="1275.2" r="7.7"/><circle cx="364.5" cy="1312.3" r="7.7"/><circle cx="379" cy="1303.9" r="7.7"/><circle cx="393.4" cy="1295.2" r="7.7"/><circle cx="407.8" cy="1286.3" r="7.7"/><circle cx="422.3" cy="1276.9" r="7.7"/><circle cx="436.7" cy="1267" r="7.7"/><circle cx="451.1" cy="1256.3" r="7.7"/><circle cx="205.8" cy="1392.9" r="7.7"/><circle cx="220.2" cy="1385.4" r="7.7"/><circle cx="234.6" cy="1377.9" r="7.7"/><circle cx="249.1" cy="1370" r="7.7"/><circle cx="249.1" cy="1370.5" r="7.7"/><circle cx="263.5" cy="1362.6" r="7.7"/><circle cx="263.5" cy="1363.1" r="7.7"/><circle cx="277.9" cy="1355.1" r="7.7"/><circle cx="292.4" cy="1347.1" r="7.7"/><circle cx="292.4" cy="1347.7" r="7.7"/><circle cx="306.8" cy="1339.6" r="7.7"/><circle cx="292.4" cy="1348.3" r="7.7"/><circle cx="321.2" cy="1332.2" r="7.7"/><circle cx="335.7" cy="1323.9" r="7.7"/><circle cx="350.1" cy="1316.3" r="7.7"/><circle cx="321.2" cy="1333.6" r="7.7"/><circle cx="379" cy="1300" r="7.7"/><circle cx="379" cy="1302.2" r="7.7"/><circle cx="393.4" cy="1293.5" r="7.7"/><circle cx="407.8" cy="1284.4" r="7.7"/><circle cx="379" cy="1303.3" r="7.7"/><circle cx="393.4" cy="1294.7" r="7.7"/><circle cx="407.8" cy="1285.8" r="7.7"/><circle cx="422.3" cy="1276.4" r="7.7"/><circle cx="436.7" cy="1266.5" r="7.7"/><circle cx="379" cy="1304.3" r="7.7"/><circle cx="393.4" cy="1295.9" r="7.7"/><circle cx="407.8" cy="1287.1" r="7.7"/><circle cx="422.3" cy="1278" r="7.7"/><circle cx="436.7" cy="1268.4" r="7.7"/><circle cx="451.1" cy="1258.1" r="7.7"/><circle cx="465.6" cy="1246.9" r="7.7"/><circle cx="407.8" cy="1285.7" r="7.7"/><circle cx="393.4" cy="1297" r="7.7"/><circle cx="407.8" cy="1288.4" r="7.7"/><circle cx="422.3" cy="1279.5" r="7.7"/><circle cx="436.7" cy="1270.2" r="7.7"/><circle cx="451.1" cy="1260.2" r="7.7"/><circle cx="465.6" cy="1249.5" r="7.7"/><circle cx="480" cy="1237.6" r="7.7"/><circle cx="407.8" cy="1289.7" r="7.7"/><circle cx="422.3" cy="1281" r="7.7"/><circle cx="436.7" cy="1271.9" r="7.7"/><circle cx="451.1" cy="1262.3" r="7.7"/><circle cx="465.6" cy="1252" r="7.7"/><circle cx="480" cy="1240.8" r="7.7"/><circle cx="494.5" cy="1228.1" r="7.7"/><circle cx="508.9" cy="1213.2" r="7.7"/><circle cx="220.2" cy="1383.7" r="7.7"/><circle cx="234.6" cy="1376.4" r="7.7"/><circle cx="249.1" cy="1369.1" r="7.7"/><circle cx="263.5" cy="1361.3" r="7.7"/><circle cx="263.5" cy="1361.8" r="7.7"/><circle cx="277.9" cy="1354" r="7.7"/><circle cx="277.9" cy="1354.5" r="7.7"/><circle cx="292.4" cy="1346.7" r="7.7"/><circle cx="306.8" cy="1338.7" r="7.7"/><circle cx="321.2" cy="1331.3" r="7.7"/><circle cx="306.8" cy="1340" r="7.7"/><circle cx="350.1" cy="1315.6" r="7.7"/><circle cx="364.5" cy="1308.1" r="7.7"/><circle cx="350.1" cy="1317.4" r="7.7"/><circle cx="393.4" cy="1291.7" r="7.7"/><circle cx="407.8" cy="1283.8" r="7.7"/><circle cx="364.5" cy="1311" r="7.7"/><circle cx="379" cy="1302.7" r="7.7"/><circle cx="422.3" cy="1275.9" r="7.7"/><circle cx="436.7" cy="1266.1" r="7.7"/><circle cx="393.4" cy="1295.3" r="7.7"/><circle cx="422.3" cy="1277.5" r="7.7"/><circle cx="436.7" cy="1267.9" r="7.7"/><circle cx="451.1" cy="1257.7" r="7.7"/><circle cx="393.4" cy="1296.5" r="7.7"/><circle cx="407.8" cy="1287.9" r="7.7"/><circle cx="422.3" cy="1279" r="7.7"/><circle cx="436.7" cy="1269.7" r="7.7"/><circle cx="465.6" cy="1249.1" r="7.7"/><circle cx="407.8" cy="1289.2" r="7.7"/><circle cx="422.3" cy="1280.5" r="7.7"/><circle cx="436.7" cy="1271.4" r="7.7"/><circle cx="451.1" cy="1261.8" r="7.7"/><circle cx="465.6" cy="1251.6" r="7.7"/><circle cx="480" cy="1240.4" r="7.7"/><circle cx="494.5" cy="1227.7" r="7.7"/><circle cx="422.3" cy="1281.9" r="7.7"/><circle cx="436.7" cy="1273.1" r="7.7"/><circle cx="451.1" cy="1263.8" r="7.7"/><circle cx="465.6" cy="1253.9" r="7.7"/><circle cx="480" cy="1243.2" r="7.7"/><circle cx="494.5" cy="1231.4" r="7.7"/><circle cx="508.9" cy="1217.8" r="7.7"/><circle cx="523.3" cy="1201.1" r="7.7"/><circle cx="451.1" cy="1259.7" r="7.7"/><circle cx="451.1" cy="1263.7" r="7.7"/><circle cx="508.9" cy="1217.7" r="7.7"/><circle cx="436.7" cy="1274.6" r="7.7"/><circle cx="451.1" cy="1265.6" r="7.7"/><circle cx="465.6" cy="1256" r="7.7"/><circle cx="480" cy="1245.8" r="7.7"/><circle cx="494.5" cy="1234.6" r="7.7"/><circle cx="508.9" cy="1222.1" r="7.7"/><circle cx="523.3" cy="1207.3" r="7.7"/><circle cx="537.8" cy="1188.2" r="7.7"/><circle cx="451.1" cy="1267.3" r="7.7"/><circle cx="465.6" cy="1258.1" r="7.7"/><circle cx="480" cy="1248.3" r="7.7"/><circle cx="494.5" cy="1237.7" r="7.7"/><circle cx="508.9" cy="1225.9" r="7.7"/><circle cx="523.3" cy="1212.5" r="7.7"/><circle cx="537.8" cy="1196.2" r="7.7"/><circle cx="552.2" cy="1174" r="7.7"/><circle cx="566.6" cy="1128.5" r="7.7"/></g>
<g class="r"><circle cx="220.21" cy="1383.8" r="7.7"/><circle cx="234.64" cy="1376.51" r="7.7"/><circle cx="249.08" cy="1369.22" r="7.7"/><circle cx="263.51" cy="1361.94" r="7.7"/><circle cx="277.94" cy="1354.65" r="7.7"/><circle cx="292.38" cy="1347.36" r="7.7"/><circle cx="306.81" cy="1340.07" r="7.7"/><circle cx="321.25" cy="1332.78" r="7.7"/><circle cx="335.68" cy="1325.49" r="7.7"/><circle cx="350.11" cy="1318.2" r="7.7"/><circle cx="364.55" cy="1310.91" r="7.7"/><circle cx="378.98" cy="1303.62" r="7.7"/><circle cx="393.42" cy="1296.33" r="7.7"/><circle cx="407.85" cy="1289.04" r="7.7"/><circle cx="422.28" cy="1281.76" r="7.7"/><circle cx="436.72" cy="1274.47" r="7.7"/><circle cx="451.15" cy="1267.18" r="7.7"/></g>
<line clip-path="url(#p6)" x1="58.55" y1="1468.94" x2="612.81" y2="1182.04" stroke="#000" stroke-width="3.7"/>
<line x1="81.8" y1="1101.6" x2="81.8" y2="1550.75" stroke="#000" stroke-width="3.7"/>
<line x1="72.45" y1="1504.8" x2="81.65" y2="1504.8" stroke="#333" stroke-width="3.5"/>
<text class="ax" text-anchor="end" transform="translate(65 1515.6) scale(1 1.03)">0</text>
<line x1="72.45" y1="1385.26" x2="81.65" y2="1385.26" stroke="#333" stroke-width="3.5"/>
<text class="ax" text-anchor="end" transform="translate(65 1396.06) scale(1 1.03)">2</text>
<line x1="72.45" y1="1265.72" x2="81.65" y2="1265.72" stroke="#333" stroke-width="3.5"/>
<text class="ax" text-anchor="end" transform="translate(65 1276.52) scale(1 1.03)">4</text>
<line x1="72.45" y1="1146.18" x2="81.65" y2="1146.18" stroke="#333" stroke-width="3.5"/>
<text class="ax" text-anchor="end" transform="translate(65 1156.98) scale(1 1.03)">6</text>
<line x1="79.95" y1="1549.1" x2="589.7" y2="1549.1" stroke="#000" stroke-width="3.7"/>
<line x1="104.74" y1="1549.1" x2="104.74" y2="1558.3" stroke="#333" stroke-width="3.5"/>
<text class="ax" text-anchor="middle" transform="translate(105.54 1587) scale(1 1.03)" clip-path="url(#c1)">1</text>
<line x1="220.21" y1="1549.1" x2="220.21" y2="1558.3" stroke="#333" stroke-width="3.5"/>
<text class="ax" text-anchor="middle" transform="translate(220.21 1587) scale(1 1.03)">2</text>
<line x1="335.68" y1="1549.1" x2="335.68" y2="1558.3" stroke="#333" stroke-width="3.5"/>
<text class="ax" text-anchor="middle" transform="translate(335.68 1587) scale(1 1.03)">3</text>
<line x1="451.15" y1="1549.1" x2="451.15" y2="1558.3" stroke="#333" stroke-width="3.5"/>
<text class="ax" text-anchor="middle" transform="translate(451.15 1587) scale(1 1.03)">4</text>
<line x1="566.62" y1="1549.1" x2="566.62" y2="1558.3" stroke="#333" stroke-width="3.5"/>
<text class="ax" text-anchor="middle" transform="translate(566.62 1587) scale(1 1.03)">5</text>
</g>
<g>
<rect x="607.85" y="1044.7" width="508.05" height="56.9" fill="#D9D9D9"/>
<text class="st" transform="translate(861.88 1084.2) scale(1 1.02)">p = 9</text>
<g class="t"><circle cx="630.9" cy="1525.7" r="7.7"/><circle cx="643.8" cy="1481.2" r="7.7"/><circle cx="656.6" cy="1467.7" r="7.7"/><circle cx="669.4" cy="1455.5" r="7.7"/><circle cx="682.3" cy="1444.1" r="7.7"/><circle cx="656.6" cy="1459.7" r="7.7"/><circle cx="669.4" cy="1449.3" r="7.7"/><circle cx="682.3" cy="1439.4" r="7.7"/><circle cx="695.1" cy="1429.7" r="7.7"/><circle cx="695.1" cy="1430.1" r="7.7"/><circle cx="707.9" cy="1420.9" r="7.7"/><circle cx="720.8" cy="1412.3" r="7.7"/><circle cx="733.6" cy="1403.6" r="7.7"/><circle cx="669.4" cy="1444" r="7.7"/><circle cx="682.3" cy="1435" r="7.7"/><circle cx="695.1" cy="1426.4" r="7.7"/><circle cx="707.9" cy="1417.7" r="7.7"/><circle cx="707.9" cy="1418" r="7.7"/><circle cx="720.8" cy="1409.6" r="7.7"/><circle cx="720.8" cy="1409.9" r="7.7"/><circle cx="733.6" cy="1401.6" r="7.7"/><circle cx="746.4" cy="1393.5" r="7.7"/><circle cx="733.6" cy="1402" r="7.7"/><circle cx="746.4" cy="1393.9" r="7.7"/><circle cx="759.2" cy="1385.9" r="7.7"/><circle cx="746.4" cy="1394.3" r="7.7"/><circle cx="759.2" cy="1386.3" r="7.7"/><circle cx="772.1" cy="1378.4" r="7.7"/><circle cx="784.9" cy="1370.6" r="7.7"/><circle cx="682.3" cy="1431.1" r="7.7"/><circle cx="695.1" cy="1423.1" r="7.7"/><circle cx="707.9" cy="1415.1" r="7.7"/><circle cx="720.8" cy="1407" r="7.7"/><circle cx="720.8" cy="1407.4" r="7.7"/><circle cx="733.6" cy="1399.4" r="7.7"/><circle cx="733.6" cy="1399.8" r="7.7"/><circle cx="746.4" cy="1391.9" r="7.7"/><circle cx="759.2" cy="1384.1" r="7.7"/><circle cx="746.4" cy="1392.3" r="7.7"/><circle cx="759.2" cy="1384.6" r="7.7"/><circle cx="772.1" cy="1376.9" r="7.7"/><circle cx="759.2" cy="1385" r="7.7"/><circle cx="772.1" cy="1377.3" r="7.7"/><circle cx="784.9" cy="1369.7" r="7.7"/><circle cx="797.7" cy="1362" r="7.7"/><circle cx="784.9" cy="1370.1" r="7.7"/><circle cx="797.7" cy="1362.6" r="7.7"/><circle cx="810.6" cy="1355" r="7.7"/><circle cx="797.7" cy="1363" r="7.7"/><circle cx="810.6" cy="1355.5" r="7.7"/><circle cx="823.4" cy="1347.9" r="7.7"/><circle cx="836.2" cy="1340.3" r="7.7"/><circle cx="695.1" cy="1420" r="7.7"/><circle cx="707.9" cy="1412.5" r="7.7"/><circle cx="720.8" cy="1405" r="7.7"/><circle cx="733.6" cy="1397.3" r="7.7"/><circle cx="746.4" cy="1390.1" r="7.7"/><circle cx="746.4" cy="1390.4" r="7.7"/><circle cx="759.2" cy="1382.9" r="7.7"/><circle cx="772.1" cy="1375.4" r="7.7"/><circle cx="733.6" cy="1397.8" r="7.7"/><circle cx="759.2" cy="1383.3" r="7.7"/><circle cx="772.1" cy="1375.8" r="7.7"/><circle cx="784.9" cy="1368.4" r="7.7"/><circle cx="784.9" cy="1368.8" r="7.7"/><circle cx="797.7" cy="1361.3" r="7.7"/><circle cx="810.6" cy="1353.9" r="7.7"/><circle cx="772.1" cy="1376.3" r="7.7"/><circle cx="810.6" cy="1354.4" r="7.7"/><circle cx="823.4" cy="1346.9" r="7.7"/><circle cx="823.4" cy="1347.5" r="7.7"/><circle cx="836.2" cy="1340" r="7.7"/><circle cx="849.1" cy="1332.4" r="7.7"/><circle cx="849.1" cy="1333.1" r="7.7"/><circle cx="861.9" cy="1325.5" r="7.7"/><circle cx="823.4" cy="1348.6" r="7.7"/><circle cx="836.2" cy="1341.2" r="7.7"/><circle cx="849.1" cy="1333.8" r="7.7"/><circle cx="861.9" cy="1326.2" r="7.7"/><circle cx="874.7" cy="1318.5" r="7.7"/><circle cx="887.5" cy="1310.7" r="7.7"/><circle cx="707.9" cy="1410" r="7.7"/><circle cx="720.8" cy="1402.8" r="7.7"/><circle cx="733.6" cy="1395.7" r="7.7"/><circle cx="746.4" cy="1388.3" r="7.7"/><circle cx="759.2" cy="1381.3" r="7.7"/><circle cx="772.1" cy="1374.4" r="7.7"/><circle cx="784.9" cy="1367" r="7.7"/><circle cx="759.2" cy="1381.8" r="7.7"/><circle cx="772.1" cy="1374.8" r="7.7"/><circle cx="784.9" cy="1367.5" r="7.7"/><circle cx="797.7" cy="1360.2" r="7.7"/><circle cx="784.9" cy="1367.9" r="7.7"/><circle cx="797.7" cy="1360.7" r="7.7"/><circle cx="810.6" cy="1353.3" r="7.7"/><circle cx="823.4" cy="1346" r="7.7"/><circle cx="797.7" cy="1361.2" r="7.7"/><circle cx="823.4" cy="1346.5" r="7.7"/><circle cx="836.2" cy="1339.1" r="7.7"/><circle cx="836.2" cy="1339.7" r="7.7"/><circle cx="861.9" cy="1324.8" r="7.7"/><circle cx="874.7" cy="1317.9" r="7.7"/><circle cx="849.1" cy="1333.6" r="7.7"/><circle cx="887.5" cy="1311" r="7.7"/><circle cx="900.4" cy="1303.1" r="7.7"/><circle cx="849.1" cy="1334.3" r="7.7"/><circle cx="861.9" cy="1326.9" r="7.7"/><circle cx="874.7" cy="1319.4" r="7.7"/><circle cx="887.5" cy="1311.8" r="7.7"/><circle cx="900.4" cy="1304" r="7.7"/><circle cx="913.2" cy="1296" r="7.7"/><circle cx="861.9" cy="1327.6" r="7.7"/><circle cx="874.7" cy="1320.2" r="7.7"/><circle cx="887.5" cy="1312.7" r="7.7"/><circle cx="900.4" cy="1305" r="7.7"/><circle cx="913.2" cy="1297.1" r="7.7"/><circle cx="926" cy="1288.9" r="7.7"/><circle cx="938.9" cy="1280.4" r="7.7"/><circle cx="720.8" cy="1400.7" r="7.7"/><circle cx="733.6" cy="1393.9" r="7.7"/><circle cx="746.4" cy="1387" r="7.7"/><circle cx="759.2" cy="1379.8" r="7.7"/><circle cx="772.1" cy="1373" r="7.7"/><circle cx="772.1" cy="1373.4" r="7.7"/><circle cx="784.9" cy="1366.3" r="7.7"/><circle cx="797.7" cy="1359.1" r="7.7"/><circle cx="759.2" cy="1380.3" r="7.7"/><circle cx="797.7" cy="1359.5" r="7.7"/><circle cx="810.6" cy="1352.3" r="7.7"/><circle cx="810.6" cy="1352.8" r="7.7"/><circle cx="823.4" cy="1345.6" r="7.7"/><circle cx="836.2" cy="1338.3" r="7.7"/><circle cx="849.1" cy="1331.5" r="7.7"/><circle cx="849.1" cy="1332.2" r="7.7"/><circle cx="874.7" cy="1317.2" r="7.7"/><circle cx="874.7" cy="1318.8" r="7.7"/><circle cx="900.4" cy="1303.5" r="7.7"/><circle cx="913.2" cy="1295.5" r="7.7"/><circle cx="900.4" cy="1304.4" r="7.7"/><circle cx="913.2" cy="1296.6" r="7.7"/><circle cx="926" cy="1288.4" r="7.7"/><circle cx="874.7" cy="1320.3" r="7.7"/><circle cx="887.5" cy="1312.9" r="7.7"/><circle cx="900.4" cy="1305.4" r="7.7"/><circle cx="913.2" cy="1297.6" r="7.7"/><circle cx="926" cy="1289.6" r="7.7"/><circle cx="938.9" cy="1281.3" r="7.7"/><circle cx="951.7" cy="1272.6" r="7.7"/><circle cx="887.5" cy="1313.7" r="7.7"/><circle cx="900.4" cy="1306.3" r="7.7"/><circle cx="913.2" cy="1298.6" r="7.7"/><circle cx="926" cy="1290.8" r="7.7"/><circle cx="938.9" cy="1282.6" r="7.7"/><circle cx="951.7" cy="1274.1" r="7.7"/><circle cx="964.5" cy="1265.1" r="7.7"/><circle cx="900.4" cy="1307.2" r="7.7"/><circle cx="913.2" cy="1299.7" r="7.7"/><circle cx="926" cy="1291.9" r="7.7"/><circle cx="938.9" cy="1283.9" r="7.7"/><circle cx="951.7" cy="1275.6" r="7.7"/><circle cx="964.5" cy="1266.8" r="7.7"/><circle cx="977.4" cy="1257.5" r="7.7"/><circle cx="990.2" cy="1247.3" r="7.7"/><circle cx="733.6" cy="1392.1" r="7.7"/><circle cx="746.4" cy="1385.4" r="7.7"/><circle cx="759.2" cy="1378.7" r="7.7"/><circle cx="772.1" cy="1371.7" r="7.7"/><circle cx="759.2" cy="1378.8" r="7.7"/><circle cx="772.1" cy="1372.1" r="7.7"/><circle cx="784.9" cy="1365.1" r="7.7"/><circle cx="784.9" cy="1365.5" r="7.7"/><circle cx="797.7" cy="1358.4" r="7.7"/><circle cx="810.6" cy="1351.3" r="7.7"/><circle cx="810.6" cy="1351.8" r="7.7"/><circle cx="823.4" cy="1344.7" r="7.7"/><circle cx="823.4" cy="1345.2" r="7.7"/><circle cx="836.2" cy="1338.1" r="7.7"/><circle cx="849.1" cy="1330.8" r="7.7"/><circle cx="861.9" cy="1324.1" r="7.7"/><circle cx="874.7" cy="1317.4" r="7.7"/><circle cx="887.5" cy="1309.8" r="7.7"/><circle cx="887.5" cy="1311.5" r="7.7"/><circle cx="926" cy="1288" r="7.7"/><circle cx="938.9" cy="1280.8" r="7.7"/><circle cx="913.2" cy="1298.1" r="7.7"/><circle cx="926" cy="1290.3" r="7.7"/><circle cx="938.9" cy="1282.2" r="7.7"/><circle cx="951.7" cy="1273.7" r="7.7"/><circle cx="964.5" cy="1264.7" r="7.7"/><circle cx="913.2" cy="1299.1" r="7.7"/><circle cx="926" cy="1291.4" r="7.7"/><circle cx="938.9" cy="1283.5" r="7.7"/><circle cx="951.7" cy="1275.2" r="7.7"/><circle cx="964.5" cy="1266.4" r="7.7"/><circle cx="977.4" cy="1257.1" r="7.7"/><circle cx="913.2" cy="1300.1" r="7.7"/><circle cx="926" cy="1292.5" r="7.7"/><circle cx="938.9" cy="1284.7" r="7.7"/><circle cx="951.7" cy="1276.6" r="7.7"/><circle cx="964.5" cy="1268.1" r="7.7"/><circle cx="977.4" cy="1259.1" r="7.7"/><circle cx="990.2" cy="1249.4" r="7.7"/><circle cx="1003" cy="1238.7" r="7.7"/><circle cx="926" cy="1293.6" r="7.7"/><circle cx="938.9" cy="1285.9" r="7.7"/><circle cx="951.7" cy="1277.9" r="7.7"/><circle cx="964.5" cy="1269.6" r="7.7"/><circle cx="977.4" cy="1260.9" r="7.7"/><circle cx="990.2" cy="1251.6" r="7.7"/><circle cx="1003" cy="1241.4" r="7.7"/><circle cx="1015.8" cy="1230.1" r="7.7"/><circle cx="938.9" cy="1287.1" r="7.7"/><circle cx="951.7" cy="1279.3" r="7.7"/><circle cx="964.5" cy="1271.2" r="7.7"/><circle cx="977.4" cy="1262.7" r="7.7"/><circle cx="990.2" cy="1253.7" r="7.7"/><circle cx="1003" cy="1244" r="7.7"/><circle cx="1015.8" cy="1233.3" r="7.7"/><circle cx="1028.7" cy="1221.2" r="7.7"/><circle cx="1041.5" cy="1206.8" r="7.7"/><circle cx="746.4" cy="1383.8" r="7.7"/><circle cx="759.2" cy="1377.4" r="7.7"/><circle cx="772.1" cy="1370.8" r="7.7"/><circle cx="784.9" cy="1363.9" r="7.7"/><circle cx="784.9" cy="1364.4" r="7.7"/><circle cx="797.7" cy="1357.4" r="7.7"/><circle cx="797.7" cy="1357.9" r="7.7"/><circle cx="810.6" cy="1350.9" r="7.7"/><circle cx="823.4" cy="1343.8" r="7.7"/><circle cx="836.2" cy="1337.2" r="7.7"/><circle cx="849.1" cy="1330.7" r="7.7"/><circle cx="861.9" cy="1323.4" r="7.7"/><circle cx="874.7" cy="1316.7" r="7.7"/><circle cx="900.4" cy="1302.4" r="7.7"/><circle cx="926" cy="1289.8" r="7.7"/><circle cx="951.7" cy="1273.2" r="7.7"/><circle cx="900.4" cy="1306.1" r="7.7"/><circle cx="938.9" cy="1283" r="7.7"/><circle cx="964.5" cy="1266" r="7.7"/><circle cx="977.4" cy="1256.7" r="7.7"/><circle cx="951.7" cy="1274.7" r="7.7"/><circle cx="951.7" cy="1276.2" r="7.7"/><circle cx="964.5" cy="1267.7" r="7.7"/><circle cx="977.4" cy="1258.7" r="7.7"/><circle cx="990.2" cy="1249" r="7.7"/><circle cx="926" cy="1293.1" r="7.7"/><circle cx="938.9" cy="1285.5" r="7.7"/><circle cx="951.7" cy="1277.6" r="7.7"/><circle cx="977.4" cy="1260.5" r="7.7"/><circle cx="990.2" cy="1251.2" r="7.7"/><circle cx="1003" cy="1241.1" r="7.7"/><circle cx="964.5" cy="1269.2" r="7.7"/><circle cx="938.9" cy="1286.6" r="7.7"/><circle cx="951.7" cy="1278.9" r="7.7"/><circle cx="1003" cy="1243.6" r="7.7"/><circle cx="1015.8" cy="1232.9" r="7.7"/><circle cx="951.7" cy="1280.1" r="7.7"/><circle cx="964.5" cy="1272.2" r="7.7"/><circle cx="977.4" cy="1264" r="7.7"/><circle cx="990.2" cy="1255.3" r="7.7"/><circle cx="1003" cy="1246" r="7.7"/><circle cx="1015.8" cy="1235.9" r="7.7"/><circle cx="1028.7" cy="1224.6" r="7.7"/><circle cx="1041.5" cy="1211.6" r="7.7"/><circle cx="1054.3" cy="1195.5" r="7.7"/><circle cx="964.5" cy="1270.7" r="7.7"/><circle cx="977.4" cy="1262.2" r="7.7"/><circle cx="990.2" cy="1253.2" r="7.7"/><circle cx="990.2" cy="1255.2" r="7.7"/><circle cx="964.5" cy="1273.6" r="7.7"/><circle cx="977.4" cy="1265.6" r="7.7"/><circle cx="990.2" cy="1257.1" r="7.7"/><circle cx="1003" cy="1248.2" r="7.7"/><circle cx="1015.8" cy="1238.5" r="7.7"/><circle cx="1028.7" cy="1227.9" r="7.7"/><circle cx="1041.5" cy="1215.9" r="7.7"/><circle cx="1054.3" cy="1201.7" r="7.7"/><circle cx="1067.2" cy="1183.3" r="7.7"/><circle cx="977.4" cy="1267.1" r="7.7"/><circle cx="990.2" cy="1258.9" r="7.7"/><circle cx="1003" cy="1250.3" r="7.7"/><circle cx="1015.8" cy="1241" r="7.7"/><circle cx="1028.7" cy="1231" r="7.7"/><circle cx="1041.5" cy="1219.8" r="7.7"/><circle cx="1054.3" cy="1207" r="7.7"/><circle cx="1067.2" cy="1191.3" r="7.7"/><circle cx="1080" cy="1169.8" r="7.7"/><circle cx="1092.8" cy="1125.3" r="7.7"/></g>
<g class="r"><circle cx="746.41" cy="1383.96" r="7.7"/><circle cx="759.24" cy="1377.46" r="7.7"/><circle cx="772.07" cy="1370.97" r="7.7"/><circle cx="784.9" cy="1364.47" r="7.7"/><circle cx="797.73" cy="1357.97" r="7.7"/><circle cx="810.56" cy="1351.48" r="7.7"/><circle cx="823.39" cy="1344.98" r="7.7"/><circle cx="836.22" cy="1338.48" r="7.7"/><circle cx="849.05" cy="1331.99" r="7.7"/><circle cx="861.88" cy="1325.49" r="7.7"/><circle cx="874.71" cy="1318.99" r="7.7"/><circle cx="887.54" cy="1312.5" r="7.7"/><circle cx="900.37" cy="1306" r="7.7"/><circle cx="913.2" cy="1299.5" r="7.7"/><circle cx="926.03" cy="1293.01" r="7.7"/><circle cx="938.86" cy="1286.51" r="7.7"/><circle cx="951.69" cy="1280.01" r="7.7"/><circle cx="964.52" cy="1273.52" r="7.7"/><circle cx="977.35" cy="1267.02" r="7.7"/></g>
<line clip-path="url(#p7)" x1="584.75" y1="1468.94" x2="1139.01" y2="1182.04" stroke="#000" stroke-width="3.7"/>
<line x1="607.85" y1="1549.1" x2="1115.9" y2="1549.1" stroke="#000" stroke-width="3.7"/>
<line x1="630.94" y1="1549.1" x2="630.94" y2="1558.3" stroke="#333" stroke-width="3.5"/>
<text class="ax" text-anchor="middle" transform="translate(631.74 1587) scale(1 1.03)" clip-path="url(#c1)">1</text>
<line x1="746.41" y1="1549.1" x2="746.41" y2="1558.3" stroke="#333" stroke-width="3.5"/>
<text class="ax" text-anchor="middle" transform="translate(746.41 1587) scale(1 1.03)">2</text>
<line x1="861.88" y1="1549.1" x2="861.88" y2="1558.3" stroke="#333" stroke-width="3.5"/>
<text class="ax" text-anchor="middle" transform="translate(861.88 1587) scale(1 1.03)">3</text>
<line x1="977.35" y1="1549.1" x2="977.35" y2="1558.3" stroke="#333" stroke-width="3.5"/>
<text class="ax" text-anchor="middle" transform="translate(977.35 1587) scale(1 1.03)">4</text>
<line x1="1092.82" y1="1549.1" x2="1092.82" y2="1558.3" stroke="#333" stroke-width="3.5"/>
<text class="ax" text-anchor="middle" transform="translate(1092.82 1587) scale(1 1.03)">5</text>
</g>
<g>
<rect x="1134" y="1044.7" width="508.05" height="56.9" fill="#D9D9D9"/>
<text class="st" transform="translate(1388.03 1084.2) scale(1 1.02)" clip-path="url(#c10)">p = 10</text>
<g class="t"><circle cx="1157.1" cy="1528.5" r="7.7"/><circle cx="1168.6" cy="1484.9" r="7.7"/><circle cx="1180.2" cy="1471.9" r="7.7"/><circle cx="1191.7" cy="1460.3" r="7.7"/><circle cx="1203.3" cy="1449.6" r="7.7"/><circle cx="1180.2" cy="1463.9" r="7.7"/><circle cx="1191.7" cy="1454" r="7.7"/><circle cx="1203.3" cy="1444.7" r="7.7"/><circle cx="1214.8" cy="1435.6" r="7.7"/><circle cx="1203.3" cy="1444.8" r="7.7"/><circle cx="1214.8" cy="1436" r="7.7"/><circle cx="1226.4" cy="1427.3" r="7.7"/><circle cx="1237.9" cy="1419.2" r="7.7"/><circle cx="1249.5" cy="1411.1" r="7.7"/><circle cx="1191.7" cy="1448.7" r="7.7"/><circle cx="1203.3" cy="1440.3" r="7.7"/><circle cx="1214.8" cy="1432.1" r="7.7"/><circle cx="1226.4" cy="1424" r="7.7"/><circle cx="1226.4" cy="1424.3" r="7.7"/><circle cx="1237.9" cy="1416.4" r="7.7"/><circle cx="1249.5" cy="1409" r="7.7"/><circle cx="1261" cy="1401.4" r="7.7"/><circle cx="1237.9" cy="1416.8" r="7.7"/><circle cx="1249.5" cy="1409.4" r="7.7"/><circle cx="1261" cy="1401.8" r="7.7"/><circle cx="1272.6" cy="1394.4" r="7.7"/><circle cx="1284.1" cy="1387.4" r="7.7"/><circle cx="1295.7" cy="1380.2" r="7.7"/><circle cx="1203.3" cy="1436.4" r="7.7"/><circle cx="1214.8" cy="1428.8" r="7.7"/><circle cx="1226.4" cy="1421.3" r="7.7"/><circle cx="1237.9" cy="1413.8" r="7.7"/><circle cx="1249.5" cy="1406.7" r="7.7"/><circle cx="1249.5" cy="1407" r="7.7"/><circle cx="1261" cy="1399.7" r="7.7"/><circle cx="1272.6" cy="1392.6" r="7.7"/><circle cx="1261" cy="1399.8" r="7.7"/><circle cx="1272.6" cy="1392.9" r="7.7"/><circle cx="1284.1" cy="1385.8" r="7.7"/><circle cx="1272.6" cy="1393.3" r="7.7"/><circle cx="1295.7" cy="1379.2" r="7.7"/><circle cx="1307.2" cy="1372.2" r="7.7"/><circle cx="1284.1" cy="1386.6" r="7.7"/><circle cx="1295.7" cy="1379.6" r="7.7"/><circle cx="1307.2" cy="1372.6" r="7.7"/><circle cx="1318.7" cy="1365.7" r="7.7"/><circle cx="1307.2" cy="1373" r="7.7"/><circle cx="1318.7" cy="1366.1" r="7.7"/><circle cx="1330.3" cy="1359.2" r="7.7"/><circle cx="1341.8" cy="1352.3" r="7.7"/><circle cx="1214.8" cy="1425.7" r="7.7"/><circle cx="1226.4" cy="1418.7" r="7.7"/><circle cx="1237.9" cy="1411.7" r="7.7"/><circle cx="1249.5" cy="1404.5" r="7.7"/><circle cx="1249.5" cy="1404.9" r="7.7"/><circle cx="1261" cy="1397.8" r="7.7"/><circle cx="1272.6" cy="1391.2" r="7.7"/><circle cx="1284.1" cy="1384.3" r="7.7"/><circle cx="1272.6" cy="1391.6" r="7.7"/><circle cx="1295.7" cy="1377.8" r="7.7"/><circle cx="1284.1" cy="1385" r="7.7"/><circle cx="1307.2" cy="1371.3" r="7.7"/><circle cx="1318.7" cy="1364.5" r="7.7"/><circle cx="1261" cy="1398.3" r="7.7"/><circle cx="1295.7" cy="1378.5" r="7.7"/><circle cx="1318.7" cy="1365" r="7.7"/><circle cx="1330.3" cy="1358.2" r="7.7"/><circle cx="1330.3" cy="1358.6" r="7.7"/><circle cx="1341.8" cy="1351.8" r="7.7"/><circle cx="1353.4" cy="1345" r="7.7"/><circle cx="1353.4" cy="1345.5" r="7.7"/><circle cx="1364.9" cy="1338.7" r="7.7"/><circle cx="1330.3" cy="1359.5" r="7.7"/><circle cx="1341.8" cy="1352.8" r="7.7"/><circle cx="1353.4" cy="1346.1" r="7.7"/><circle cx="1364.9" cy="1339.3" r="7.7"/><circle cx="1376.5" cy="1332.4" r="7.7"/><circle cx="1388" cy="1325.5" r="7.7"/><circle cx="1226.4" cy="1416.1" r="7.7"/><circle cx="1237.9" cy="1409.5" r="7.7"/><circle cx="1249.5" cy="1402.8" r="7.7"/><circle cx="1261" cy="1396" r="7.7"/><circle cx="1261" cy="1396.4" r="7.7"/><circle cx="1272.6" cy="1389.6" r="7.7"/><circle cx="1272.6" cy="1389.9" r="7.7"/><circle cx="1284.1" cy="1383.1" r="7.7"/><circle cx="1295.7" cy="1376.4" r="7.7"/><circle cx="1284.1" cy="1383.5" r="7.7"/><circle cx="1295.7" cy="1376.8" r="7.7"/><circle cx="1307.2" cy="1370.1" r="7.7"/><circle cx="1307.2" cy="1370.5" r="7.7"/><circle cx="1318.7" cy="1363.8" r="7.7"/><circle cx="1330.3" cy="1357.1" r="7.7"/><circle cx="1307.2" cy="1370.9" r="7.7"/><circle cx="1330.3" cy="1357.6" r="7.7"/><circle cx="1341.8" cy="1350.9" r="7.7"/><circle cx="1341.8" cy="1351.4" r="7.7"/><circle cx="1353.4" cy="1344.7" r="7.7"/><circle cx="1364.9" cy="1337.9" r="7.7"/><circle cx="1295.7" cy="1377.3" r="7.7"/><circle cx="1376.5" cy="1331.7" r="7.7"/><circle cx="1364.9" cy="1339" r="7.7"/><circle cx="1399.6" cy="1318.6" r="7.7"/><circle cx="1376.5" cy="1332.9" r="7.7"/><circle cx="1388" cy="1326.1" r="7.7"/><circle cx="1399.6" cy="1319.3" r="7.7"/><circle cx="1411.1" cy="1312.3" r="7.7"/><circle cx="1364.9" cy="1340.1" r="7.7"/><circle cx="1376.5" cy="1333.5" r="7.7"/><circle cx="1388" cy="1326.8" r="7.7"/><circle cx="1399.6" cy="1320" r="7.7"/><circle cx="1411.1" cy="1313" r="7.7"/><circle cx="1422.7" cy="1306" r="7.7"/><circle cx="1434.2" cy="1298.7" r="7.7"/><circle cx="1237.9" cy="1407.3" r="7.7"/><circle cx="1249.5" cy="1401" r="7.7"/><circle cx="1261" cy="1394.6" r="7.7"/><circle cx="1272.6" cy="1388" r="7.7"/><circle cx="1272.6" cy="1388.3" r="7.7"/><circle cx="1284.1" cy="1381.7" r="7.7"/><circle cx="1284.1" cy="1382.1" r="7.7"/><circle cx="1295.7" cy="1375.5" r="7.7"/><circle cx="1307.2" cy="1368.9" r="7.7"/><circle cx="1295.7" cy="1375.9" r="7.7"/><circle cx="1307.2" cy="1369.3" r="7.7"/><circle cx="1318.7" cy="1362.8" r="7.7"/><circle cx="1330.3" cy="1356.6" r="7.7"/><circle cx="1341.8" cy="1350" r="7.7"/><circle cx="1318.7" cy="1363.6" r="7.7"/><circle cx="1341.8" cy="1350.5" r="7.7"/><circle cx="1353.4" cy="1343.9" r="7.7"/><circle cx="1364.9" cy="1337.7" r="7.7"/><circle cx="1376.5" cy="1331" r="7.7"/><circle cx="1388" cy="1324.8" r="7.7"/><circle cx="1376.5" cy="1332.2" r="7.7"/><circle cx="1411.1" cy="1311.7" r="7.7"/><circle cx="1422.7" cy="1305.4" r="7.7"/><circle cx="1422.7" cy="1306.3" r="7.7"/><circle cx="1434.2" cy="1299.2" r="7.7"/><circle cx="1445.8" cy="1291.8" r="7.7"/><circle cx="1388" cy="1327.4" r="7.7"/><circle cx="1399.6" cy="1320.7" r="7.7"/><circle cx="1411.1" cy="1314" r="7.7"/><circle cx="1422.7" cy="1307.1" r="7.7"/><circle cx="1434.2" cy="1300.1" r="7.7"/><circle cx="1445.8" cy="1292.8" r="7.7"/><circle cx="1457.3" cy="1285.3" r="7.7"/><circle cx="1399.6" cy="1321.4" r="7.7"/><circle cx="1411.1" cy="1314.7" r="7.7"/><circle cx="1422.7" cy="1307.9" r="7.7"/><circle cx="1434.2" cy="1301" r="7.7"/><circle cx="1445.8" cy="1293.8" r="7.7"/><circle cx="1457.3" cy="1286.5" r="7.7"/><circle cx="1468.9" cy="1278.8" r="7.7"/><circle cx="1480.4" cy="1270.7" r="7.7"/><circle cx="1249.5" cy="1399.1" r="7.7"/><circle cx="1261" cy="1393" r="7.7"/><circle cx="1272.6" cy="1386.8" r="7.7"/><circle cx="1284.1" cy="1380.4" r="7.7"/><circle cx="1295.7" cy="1374.3" r="7.7"/><circle cx="1307.2" cy="1368.2" r="7.7"/><circle cx="1318.7" cy="1361.7" r="7.7"/><circle cx="1284.1" cy="1380.8" r="7.7"/><circle cx="1307.2" cy="1368.6" r="7.7"/><circle cx="1318.7" cy="1362.1" r="7.7"/><circle cx="1330.3" cy="1355.7" r="7.7"/><circle cx="1318.7" cy="1362.5" r="7.7"/><circle cx="1330.3" cy="1356.1" r="7.7"/><circle cx="1341.8" cy="1349.6" r="7.7"/><circle cx="1353.4" cy="1343" r="7.7"/><circle cx="1353.4" cy="1343.6" r="7.7"/><circle cx="1364.9" cy="1337" r="7.7"/><circle cx="1388" cy="1324.2" r="7.7"/><circle cx="1399.6" cy="1318.1" r="7.7"/><circle cx="1399.6" cy="1318.8" r="7.7"/><circle cx="1411.1" cy="1311.9" r="7.7"/><circle cx="1422.7" cy="1304.9" r="7.7"/><circle cx="1388" cy="1326.7" r="7.7"/><circle cx="1411.1" cy="1313.4" r="7.7"/><circle cx="1434.2" cy="1299.6" r="7.7"/><circle cx="1445.8" cy="1292.4" r="7.7"/><circle cx="1457.3" cy="1284.9" r="7.7"/><circle cx="1399.6" cy="1320.8" r="7.7"/><circle cx="1422.7" cy="1307.4" r="7.7"/><circle cx="1434.2" cy="1300.5" r="7.7"/><circle cx="1445.8" cy="1293.4" r="7.7"/><circle cx="1457.3" cy="1286" r="7.7"/><circle cx="1468.9" cy="1278.4" r="7.7"/><circle cx="1411.1" cy="1314.9" r="7.7"/><circle cx="1434.2" cy="1301.4" r="7.7"/><circle cx="1445.8" cy="1294.4" r="7.7"/><circle cx="1457.3" cy="1287.1" r="7.7"/><circle cx="1468.9" cy="1279.7" r="7.7"/><circle cx="1480.4" cy="1271.8" r="7.7"/><circle cx="1492" cy="1263.5" r="7.7"/><circle cx="1422.7" cy="1309" r="7.7"/><circle cx="1434.2" cy="1302.2" r="7.7"/><circle cx="1445.8" cy="1295.3" r="7.7"/><circle cx="1457.3" cy="1288.2" r="7.7"/><circle cx="1468.9" cy="1280.9" r="7.7"/><circle cx="1480.4" cy="1273.2" r="7.7"/><circle cx="1492" cy="1265.1" r="7.7"/><circle cx="1503.5" cy="1256.6" r="7.7"/><circle cx="1434.2" cy="1303.1" r="7.7"/><circle cx="1445.8" cy="1296.3" r="7.7"/><circle cx="1457.3" cy="1289.3" r="7.7"/><circle cx="1468.9" cy="1282.1" r="7.7"/><circle cx="1480.4" cy="1274.6" r="7.7"/><circle cx="1492" cy="1266.7" r="7.7"/><circle cx="1503.5" cy="1258.4" r="7.7"/><circle cx="1515" cy="1249.5" r="7.7"/><circle cx="1526.6" cy="1239.8" r="7.7"/><circle cx="1261" cy="1391.4" r="7.7"/><circle cx="1272.6" cy="1385.4" r="7.7"/><circle cx="1284.1" cy="1379.4" r="7.7"/><circle cx="1295.7" cy="1373" r="7.7"/><circle cx="1295.7" cy="1373.4" r="7.7"/><circle cx="1307.2" cy="1367.1" r="7.7"/><circle cx="1307.2" cy="1367.5" r="7.7"/><circle cx="1318.7" cy="1361.1" r="7.7"/><circle cx="1330.3" cy="1354.7" r="7.7"/><circle cx="1330.3" cy="1355.2" r="7.7"/><circle cx="1341.8" cy="1348.7" r="7.7"/><circle cx="1341.8" cy="1349.2" r="7.7"/><circle cx="1364.9" cy="1336.2" r="7.7"/><circle cx="1376.5" cy="1330.2" r="7.7"/><circle cx="1399.6" cy="1317.5" r="7.7"/><circle cx="1434.2" cy="1298.2" r="7.7"/><circle cx="1468.9" cy="1278" r="7.7"/><circle cx="1480.4" cy="1271.4" r="7.7"/><circle cx="1422.7" cy="1308.5" r="7.7"/><circle cx="1445.8" cy="1294.9" r="7.7"/><circle cx="1468.9" cy="1280.5" r="7.7"/><circle cx="1492" cy="1264.7" r="7.7"/><circle cx="1434.2" cy="1302.6" r="7.7"/><circle cx="1445.8" cy="1295.8" r="7.7"/><circle cx="1457.3" cy="1288.8" r="7.7"/><circle cx="1468.9" cy="1281.6" r="7.7"/><circle cx="1480.4" cy="1274.2" r="7.7"/><circle cx="1503.5" cy="1258" r="7.7"/><circle cx="1515" cy="1249.2" r="7.7"/><circle cx="1457.3" cy="1289.9" r="7.7"/><circle cx="1468.9" cy="1282.8" r="7.7"/><circle cx="1480.4" cy="1275.5" r="7.7"/><circle cx="1492" cy="1267.8" r="7.7"/><circle cx="1503.5" cy="1259.8" r="7.7"/><circle cx="1515" cy="1251.2" r="7.7"/><circle cx="1526.6" cy="1242" r="7.7"/><circle cx="1538.1" cy="1231.8" r="7.7"/><circle cx="1457.3" cy="1287.7" r="7.7"/><circle cx="1480.4" cy="1272.7" r="7.7"/><circle cx="1503.5" cy="1259.7" r="7.7"/><circle cx="1457.3" cy="1290.8" r="7.7"/><circle cx="1468.9" cy="1283.9" r="7.7"/><circle cx="1480.4" cy="1276.7" r="7.7"/><circle cx="1492" cy="1269.2" r="7.7"/><circle cx="1503.5" cy="1261.4" r="7.7"/><circle cx="1515" cy="1253.1" r="7.7"/><circle cx="1526.6" cy="1244.3" r="7.7"/><circle cx="1538.1" cy="1234.6" r="7.7"/><circle cx="1549.7" cy="1223.7" r="7.7"/><circle cx="1468.9" cy="1285" r="7.7"/><circle cx="1480.4" cy="1277.9" r="7.7"/><circle cx="1492" cy="1270.6" r="7.7"/><circle cx="1503.5" cy="1263" r="7.7"/><circle cx="1515" cy="1255" r="7.7"/><circle cx="1526.6" cy="1246.4" r="7.7"/><circle cx="1538.1" cy="1237.2" r="7.7"/><circle cx="1549.7" cy="1227" r="7.7"/><circle cx="1561.2" cy="1215.4" r="7.7"/><circle cx="1572.8" cy="1201.4" r="7.7"/><circle cx="1272.6" cy="1384" r="7.7"/><circle cx="1284.1" cy="1378.1" r="7.7"/><circle cx="1295.7" cy="1372.2" r="7.7"/><circle cx="1307.2" cy="1366" r="7.7"/><circle cx="1295.7" cy="1372.3" r="7.7"/><circle cx="1307.2" cy="1366.4" r="7.7"/><circle cx="1318.7" cy="1360.1" r="7.7"/><circle cx="1318.7" cy="1360.5" r="7.7"/><circle cx="1330.3" cy="1354.2" r="7.7"/><circle cx="1341.8" cy="1347.9" r="7.7"/><circle cx="1353.4" cy="1342" r="7.7"/><circle cx="1353.4" cy="1342.5" r="7.7"/><circle cx="1376.5" cy="1329.6" r="7.7"/><circle cx="1364.9" cy="1336.6" r="7.7"/><circle cx="1388" cy="1323.6" r="7.7"/><circle cx="1376.5" cy="1330.7" r="7.7"/><circle cx="1411.1" cy="1310.8" r="7.7"/><circle cx="1422.7" cy="1304.7" r="7.7"/><circle cx="1445.8" cy="1291.5" r="7.7"/><circle cx="1480.4" cy="1271.1" r="7.7"/><circle cx="1468.9" cy="1280.1" r="7.7"/><circle cx="1457.3" cy="1288.4" r="7.7"/><circle cx="1492" cy="1266" r="7.7"/><circle cx="1503.5" cy="1257.7" r="7.7"/><circle cx="1468.9" cy="1282.4" r="7.7"/><circle cx="1480.4" cy="1275.1" r="7.7"/><circle cx="1492" cy="1267.5" r="7.7"/><circle cx="1526.6" cy="1241.6" r="7.7"/><circle cx="1457.3" cy="1290.4" r="7.7"/><circle cx="1468.9" cy="1283.5" r="7.7"/><circle cx="1503.5" cy="1261.1" r="7.7"/><circle cx="1526.6" cy="1244" r="7.7"/><circle cx="1480.4" cy="1273.7" r="7.7"/><circle cx="1538.1" cy="1234.2" r="7.7"/><circle cx="1468.9" cy="1284.6" r="7.7"/><circle cx="1480.4" cy="1277.5" r="7.7"/><circle cx="1503.5" cy="1262.6" r="7.7"/><circle cx="1515" cy="1254.6" r="7.7"/><circle cx="1526.6" cy="1246.1" r="7.7"/><circle cx="1549.7" cy="1226.6" r="7.7"/><circle cx="1561.2" cy="1215" r="7.7"/><circle cx="1480.4" cy="1278.7" r="7.7"/><circle cx="1492" cy="1271.6" r="7.7"/><circle cx="1503.5" cy="1264.2" r="7.7"/><circle cx="1515" cy="1256.4" r="7.7"/><circle cx="1526.6" cy="1248.1" r="7.7"/><circle cx="1538.1" cy="1239.3" r="7.7"/><circle cx="1549.7" cy="1229.6" r="7.7"/><circle cx="1561.2" cy="1218.8" r="7.7"/><circle cx="1572.8" cy="1206.3" r="7.7"/><circle cx="1584.3" cy="1190.6" r="7.7"/><circle cx="1515" cy="1252.7" r="7.7"/><circle cx="1492" cy="1270.2" r="7.7"/><circle cx="1538.1" cy="1239.2" r="7.7"/><circle cx="1572.8" cy="1206.2" r="7.7"/><circle cx="1492" cy="1272.8" r="7.7"/><circle cx="1503.5" cy="1265.6" r="7.7"/><circle cx="1515" cy="1258" r="7.7"/><circle cx="1526.6" cy="1250" r="7.7"/><circle cx="1538.1" cy="1241.5" r="7.7"/><circle cx="1549.7" cy="1232.3" r="7.7"/><circle cx="1561.2" cy="1222.2" r="7.7"/><circle cx="1572.8" cy="1210.7" r="7.7"/><circle cx="1584.3" cy="1196.9" r="7.7"/><circle cx="1595.9" cy="1179.1" r="7.7"/><circle cx="1503.5" cy="1267" r="7.7"/><circle cx="1515" cy="1259.6" r="7.7"/><circle cx="1526.6" cy="1251.9" r="7.7"/><circle cx="1538.1" cy="1243.7" r="7.7"/><circle cx="1549.7" cy="1234.9" r="7.7"/><circle cx="1561.2" cy="1225.3" r="7.7"/><circle cx="1572.8" cy="1214.6" r="7.7"/><circle cx="1584.3" cy="1202.3" r="7.7"/><circle cx="1595.9" cy="1187.1" r="7.7"/><circle cx="1607.4" cy="1166.1" r="7.7"/><circle cx="1619" cy="1122.4" r="7.7"/></g>
<g class="r"><circle cx="1272.56" cy="1384.09" r="7.7"/><circle cx="1284.11" cy="1378.23" r="7.7"/><circle cx="1295.65" cy="1372.37" r="7.7"/><circle cx="1307.2" cy="1366.51" r="7.7"/><circle cx="1318.75" cy="1360.65" r="7.7"/><circle cx="1330.29" cy="1354.79" r="7.7"/><circle cx="1341.84" cy="1348.93" r="7.7"/><circle cx="1353.39" cy="1343.07" r="7.7"/><circle cx="1364.94" cy="1337.21" r="7.7"/><circle cx="1376.48" cy="1331.35" r="7.7"/><circle cx="1388.03" cy="1325.49" r="7.7"/><circle cx="1399.58" cy="1319.63" r="7.7"/><circle cx="1411.12" cy="1313.77" r="7.7"/><circle cx="1422.67" cy="1307.91" r="7.7"/><circle cx="1434.22" cy="1302.05" r="7.7"/><circle cx="1445.76" cy="1296.19" r="7.7"/><circle cx="1457.31" cy="1290.33" r="7.7"/><circle cx="1468.86" cy="1284.47" r="7.7"/><circle cx="1480.41" cy="1278.61" r="7.7"/><circle cx="1491.95" cy="1272.75" r="7.7"/><circle cx="1503.5" cy="1266.89" r="7.7"/></g>
<line clip-path="url(#p8)" x1="1110.9" y1="1468.94" x2="1665.16" y2="1182.04" stroke="#000" stroke-width="3.7"/>
<line x1="1134" y1="1549.1" x2="1642.05" y2="1549.1" stroke="#000" stroke-width="3.7"/>
<line x1="1157.09" y1="1549.1" x2="1157.09" y2="1558.3" stroke="#333" stroke-width="3.5"/>
<text class="ax" text-anchor="middle" transform="translate(1157.89 1587) scale(1 1.03)" clip-path="url(#c1)">1</text>
<line x1="1272.56" y1="1549.1" x2="1272.56" y2="1558.3" stroke="#333" stroke-width="3.5"/>
<text class="ax" text-anchor="middle" transform="translate(1272.56 1587) scale(1 1.03)">2</text>
<line x1="1388.03" y1="1549.1" x2="1388.03" y2="1558.3" stroke="#333" stroke-width="3.5"/>
<text class="ax" text-anchor="middle" transform="translate(1388.03 1587) scale(1 1.03)">3</text>
<line x1="1503.5" y1="1549.1" x2="1503.5" y2="1558.3" stroke="#333" stroke-width="3.5"/>
<text class="ax" text-anchor="middle" transform="translate(1503.5 1587) scale(1 1.03)">4</text>
<line x1="1618.97" y1="1549.1" x2="1618.97" y2="1558.3" stroke="#333" stroke-width="3.5"/>
<text class="ax" text-anchor="middle" transform="translate(1618.97 1587) scale(1 1.03)">5</text>
</g>
<text class="ti" x="862" y="1629.2">Observed average</text>
<text class="ti" transform="translate(32.3 802.7) rotate(-90)">MAP estimate</text>
</svg></body></html>
